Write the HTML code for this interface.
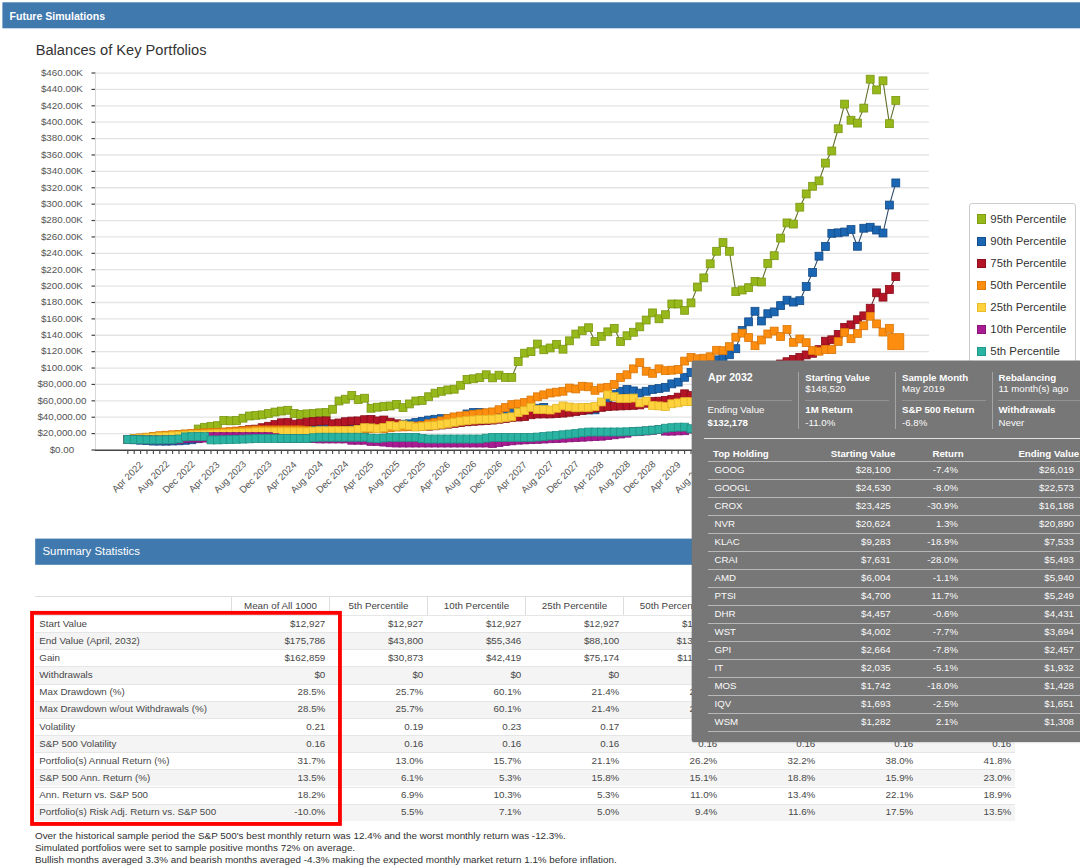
<!DOCTYPE html>
<html><head><meta charset="utf-8"><title>Future Simulations</title>
<style>
html,body{margin:0;padding:0;background:#fff;overflow:hidden;}
body{width:1080px;height:866px;position:relative;overflow:hidden;font-family:"Liberation Sans",sans-serif;color:#333;}
.bar{position:absolute;background:#3f79ae;color:#fff;font-size:11.4px;line-height:26px;white-space:nowrap;}
.title{position:absolute;left:35.7px;top:42.4px;font-size:14.65px;line-height:17px;color:#333;white-space:nowrap;}
.legend{position:absolute;left:969px;top:203px;width:105px;height:175px;border:1px solid #ccc;border-radius:3px;background:#fff;font-size:11.4px;color:#333;}
.legend .li{position:absolute;left:20.3px;line-height:11px;height:11px;white-space:nowrap;}
.legend .sw{position:absolute;left:-13.8px;top:0.8px;width:9.4px;height:9.4px;}
.tt{position:absolute;left:692px;top:360.3px;width:388px;height:381px;color:#fff;font-size:9.7px;}
.tt .t{position:absolute;white-space:nowrap;line-height:11px;color:#fbfbfb;}
.tt .b{font-weight:bold;color:#fff;}
.tt .r{text-align:right;}
.tt .vd{position:absolute;top:11.5px;width:1px;height:57.5px;background:#a4a4a4;}
.tt .hs{position:absolute;top:39.3px;height:1px;background:#929292;}
.tt .hl{position:absolute;right:0;height:1.2px;background:#b8b8b8;}
.tbl{position:absolute;left:35px;top:596px;width:980px;height:226px;font-size:9.8px;color:#484848;border-top:1px solid #ddd;}
.thr{position:absolute;left:0;top:0;width:980px;height:18px;}
.th{position:absolute;top:0;width:97px;height:18px;line-height:17.4px;text-align:center;border-left:1px solid #ddd;color:#444;}
.tr{position:absolute;left:0;width:980px;height:17.15px;border-top:1px solid #e6e6e6;box-sizing:border-box;}
.tr.alt{background:#f4f4f4;}
.td{position:absolute;top:-1.3px;width:94.3px;height:17px;line-height:17px;text-align:right;white-space:nowrap;}
.td.l{left:4.3px;width:190px;text-align:left;}
.redbox{position:absolute;left:31px;top:611px;width:306px;height:208px;border:3px solid #ee0a0f;}
.fn{position:absolute;left:35px;font-size:9.85px;line-height:11.7px;color:#303030;white-space:nowrap;}
</style></head><body>
<svg width="1080" height="32" style="position:absolute;left:0;top:0"><rect x="2.4" y="2.3" width="1080" height="26" fill="#3f79ae"/></svg><div class="bar" style="left:2.5px;top:2.4px;width:1078px;height:26px;background:none"><span style="position:absolute;left:7px;top:0.5px;font-weight:bold;font-size:10.55px">Future Simulations</span></div>
<div class="title">Balances of Key Portfolios</div>
<svg width="1080" height="540" style="position:absolute;left:0;top:0" font-family="Liberation Sans, sans-serif">
<line x1="95.5" x2="929" y1="433.61" y2="433.61" stroke="#e4e4e4" stroke-width="1.3"/>
<line x1="95.5" x2="929" y1="417.22" y2="417.22" stroke="#e4e4e4" stroke-width="1.3"/>
<line x1="95.5" x2="929" y1="400.83" y2="400.83" stroke="#e4e4e4" stroke-width="1.3"/>
<line x1="95.5" x2="929" y1="384.44" y2="384.44" stroke="#e4e4e4" stroke-width="1.3"/>
<line x1="95.5" x2="929" y1="368.05" y2="368.05" stroke="#e4e4e4" stroke-width="1.3"/>
<line x1="95.5" x2="929" y1="351.66" y2="351.66" stroke="#e4e4e4" stroke-width="1.3"/>
<line x1="95.5" x2="929" y1="335.27" y2="335.27" stroke="#e4e4e4" stroke-width="1.3"/>
<line x1="95.5" x2="929" y1="318.88" y2="318.88" stroke="#e4e4e4" stroke-width="1.3"/>
<line x1="95.5" x2="929" y1="302.49" y2="302.49" stroke="#e4e4e4" stroke-width="1.3"/>
<line x1="95.5" x2="929" y1="286.10" y2="286.10" stroke="#e4e4e4" stroke-width="1.3"/>
<line x1="95.5" x2="929" y1="269.71" y2="269.71" stroke="#e4e4e4" stroke-width="1.3"/>
<line x1="95.5" x2="929" y1="253.32" y2="253.32" stroke="#e4e4e4" stroke-width="1.3"/>
<line x1="95.5" x2="929" y1="236.93" y2="236.93" stroke="#e4e4e4" stroke-width="1.3"/>
<line x1="95.5" x2="929" y1="220.54" y2="220.54" stroke="#e4e4e4" stroke-width="1.3"/>
<line x1="95.5" x2="929" y1="204.15" y2="204.15" stroke="#e4e4e4" stroke-width="1.3"/>
<line x1="95.5" x2="929" y1="187.76" y2="187.76" stroke="#e4e4e4" stroke-width="1.3"/>
<line x1="95.5" x2="929" y1="171.37" y2="171.37" stroke="#e4e4e4" stroke-width="1.3"/>
<line x1="95.5" x2="929" y1="154.98" y2="154.98" stroke="#e4e4e4" stroke-width="1.3"/>
<line x1="95.5" x2="929" y1="138.59" y2="138.59" stroke="#e4e4e4" stroke-width="1.3"/>
<line x1="95.5" x2="929" y1="122.20" y2="122.20" stroke="#e4e4e4" stroke-width="1.3"/>
<line x1="95.5" x2="929" y1="105.81" y2="105.81" stroke="#e4e4e4" stroke-width="1.3"/>
<line x1="95.5" x2="929" y1="89.42" y2="89.42" stroke="#e4e4e4" stroke-width="1.3"/>
<line x1="95.5" x2="929" y1="73.03" y2="73.03" stroke="#e4e4e4" stroke-width="1.3"/>
<text x="61.9" y="452.80" text-anchor="middle" font-size="9.8" fill="#555">$0.00</text>
<line x1="91.5" x2="95.5" y1="450.00" y2="450.00" stroke="#444" stroke-width="1.2"/>
<text x="61.9" y="436.41" text-anchor="middle" font-size="9.8" fill="#555">$20,000.00</text>
<line x1="91.5" x2="95.5" y1="433.61" y2="433.61" stroke="#444" stroke-width="1.2"/>
<text x="61.9" y="420.02" text-anchor="middle" font-size="9.8" fill="#555">$40,000.00</text>
<line x1="91.5" x2="95.5" y1="417.22" y2="417.22" stroke="#444" stroke-width="1.2"/>
<text x="61.9" y="403.63" text-anchor="middle" font-size="9.8" fill="#555">$60,000.00</text>
<line x1="91.5" x2="95.5" y1="400.83" y2="400.83" stroke="#444" stroke-width="1.2"/>
<text x="61.9" y="387.24" text-anchor="middle" font-size="9.8" fill="#555">$80,000.00</text>
<line x1="91.5" x2="95.5" y1="384.44" y2="384.44" stroke="#444" stroke-width="1.2"/>
<text x="61.9" y="370.85" text-anchor="middle" font-size="9.8" fill="#555">$100.00K</text>
<line x1="91.5" x2="95.5" y1="368.05" y2="368.05" stroke="#444" stroke-width="1.2"/>
<text x="61.9" y="354.46" text-anchor="middle" font-size="9.8" fill="#555">$120.00K</text>
<line x1="91.5" x2="95.5" y1="351.66" y2="351.66" stroke="#444" stroke-width="1.2"/>
<text x="61.9" y="338.07" text-anchor="middle" font-size="9.8" fill="#555">$140.00K</text>
<line x1="91.5" x2="95.5" y1="335.27" y2="335.27" stroke="#444" stroke-width="1.2"/>
<text x="61.9" y="321.68" text-anchor="middle" font-size="9.8" fill="#555">$160.00K</text>
<line x1="91.5" x2="95.5" y1="318.88" y2="318.88" stroke="#444" stroke-width="1.2"/>
<text x="61.9" y="305.29" text-anchor="middle" font-size="9.8" fill="#555">$180.00K</text>
<line x1="91.5" x2="95.5" y1="302.49" y2="302.49" stroke="#444" stroke-width="1.2"/>
<text x="61.9" y="288.90" text-anchor="middle" font-size="9.8" fill="#555">$200.00K</text>
<line x1="91.5" x2="95.5" y1="286.10" y2="286.10" stroke="#444" stroke-width="1.2"/>
<text x="61.9" y="272.51" text-anchor="middle" font-size="9.8" fill="#555">$220.00K</text>
<line x1="91.5" x2="95.5" y1="269.71" y2="269.71" stroke="#444" stroke-width="1.2"/>
<text x="61.9" y="256.12" text-anchor="middle" font-size="9.8" fill="#555">$240.00K</text>
<line x1="91.5" x2="95.5" y1="253.32" y2="253.32" stroke="#444" stroke-width="1.2"/>
<text x="61.9" y="239.73" text-anchor="middle" font-size="9.8" fill="#555">$260.00K</text>
<line x1="91.5" x2="95.5" y1="236.93" y2="236.93" stroke="#444" stroke-width="1.2"/>
<text x="61.9" y="223.34" text-anchor="middle" font-size="9.8" fill="#555">$280.00K</text>
<line x1="91.5" x2="95.5" y1="220.54" y2="220.54" stroke="#444" stroke-width="1.2"/>
<text x="61.9" y="206.95" text-anchor="middle" font-size="9.8" fill="#555">$300.00K</text>
<line x1="91.5" x2="95.5" y1="204.15" y2="204.15" stroke="#444" stroke-width="1.2"/>
<text x="61.9" y="190.56" text-anchor="middle" font-size="9.8" fill="#555">$320.00K</text>
<line x1="91.5" x2="95.5" y1="187.76" y2="187.76" stroke="#444" stroke-width="1.2"/>
<text x="61.9" y="174.17" text-anchor="middle" font-size="9.8" fill="#555">$340.00K</text>
<line x1="91.5" x2="95.5" y1="171.37" y2="171.37" stroke="#444" stroke-width="1.2"/>
<text x="61.9" y="157.78" text-anchor="middle" font-size="9.8" fill="#555">$360.00K</text>
<line x1="91.5" x2="95.5" y1="154.98" y2="154.98" stroke="#444" stroke-width="1.2"/>
<text x="61.9" y="141.39" text-anchor="middle" font-size="9.8" fill="#555">$380.00K</text>
<line x1="91.5" x2="95.5" y1="138.59" y2="138.59" stroke="#444" stroke-width="1.2"/>
<text x="61.9" y="125.00" text-anchor="middle" font-size="9.8" fill="#555">$400.00K</text>
<line x1="91.5" x2="95.5" y1="122.20" y2="122.20" stroke="#444" stroke-width="1.2"/>
<text x="61.9" y="108.61" text-anchor="middle" font-size="9.8" fill="#555">$420.00K</text>
<line x1="91.5" x2="95.5" y1="105.81" y2="105.81" stroke="#444" stroke-width="1.2"/>
<text x="61.9" y="92.22" text-anchor="middle" font-size="9.8" fill="#555">$440.00K</text>
<line x1="91.5" x2="95.5" y1="89.42" y2="89.42" stroke="#444" stroke-width="1.2"/>
<text x="61.9" y="75.83" text-anchor="middle" font-size="9.8" fill="#555">$460.00K</text>
<line x1="91.5" x2="95.5" y1="73.03" y2="73.03" stroke="#444" stroke-width="1.2"/>
<line x1="95.5" x2="95.5" y1="73" y2="450" stroke="#d8d8d8" stroke-width="1"/>
<line x1="95" x2="929" y1="450.3" y2="450.3" stroke="#444" stroke-width="1.4"/>
<line x1="127.80" x2="127.80" y1="450" y2="454.1" stroke="#444" stroke-width="1.1"/>
<text transform="translate(129.80,479.30) rotate(-45)" text-anchor="middle" font-size="9.6" fill="#555">Apr 2022</text>
<line x1="134.20" x2="134.20" y1="450" y2="454.1" stroke="#444" stroke-width="1.1"/>
<line x1="140.60" x2="140.60" y1="450" y2="454.1" stroke="#444" stroke-width="1.1"/>
<line x1="147.00" x2="147.00" y1="450" y2="454.1" stroke="#444" stroke-width="1.1"/>
<line x1="153.40" x2="153.40" y1="450" y2="454.1" stroke="#444" stroke-width="1.1"/>
<text transform="translate(155.40,479.30) rotate(-45)" text-anchor="middle" font-size="9.6" fill="#555">Aug 2022</text>
<line x1="159.80" x2="159.80" y1="450" y2="454.1" stroke="#444" stroke-width="1.1"/>
<line x1="166.20" x2="166.20" y1="450" y2="454.1" stroke="#444" stroke-width="1.1"/>
<line x1="172.60" x2="172.60" y1="450" y2="454.1" stroke="#444" stroke-width="1.1"/>
<line x1="179.00" x2="179.00" y1="450" y2="454.1" stroke="#444" stroke-width="1.1"/>
<text transform="translate(181.00,479.30) rotate(-45)" text-anchor="middle" font-size="9.6" fill="#555">Dec 2022</text>
<line x1="185.40" x2="185.40" y1="450" y2="454.1" stroke="#444" stroke-width="1.1"/>
<line x1="191.80" x2="191.80" y1="450" y2="454.1" stroke="#444" stroke-width="1.1"/>
<line x1="198.20" x2="198.20" y1="450" y2="454.1" stroke="#444" stroke-width="1.1"/>
<line x1="204.60" x2="204.60" y1="450" y2="454.1" stroke="#444" stroke-width="1.1"/>
<text transform="translate(206.60,479.30) rotate(-45)" text-anchor="middle" font-size="9.6" fill="#555">Apr 2023</text>
<line x1="211.00" x2="211.00" y1="450" y2="454.1" stroke="#444" stroke-width="1.1"/>
<line x1="217.40" x2="217.40" y1="450" y2="454.1" stroke="#444" stroke-width="1.1"/>
<line x1="223.80" x2="223.80" y1="450" y2="454.1" stroke="#444" stroke-width="1.1"/>
<line x1="230.20" x2="230.20" y1="450" y2="454.1" stroke="#444" stroke-width="1.1"/>
<text transform="translate(232.20,479.30) rotate(-45)" text-anchor="middle" font-size="9.6" fill="#555">Aug 2023</text>
<line x1="236.60" x2="236.60" y1="450" y2="454.1" stroke="#444" stroke-width="1.1"/>
<line x1="243.00" x2="243.00" y1="450" y2="454.1" stroke="#444" stroke-width="1.1"/>
<line x1="249.40" x2="249.40" y1="450" y2="454.1" stroke="#444" stroke-width="1.1"/>
<line x1="255.80" x2="255.80" y1="450" y2="454.1" stroke="#444" stroke-width="1.1"/>
<text transform="translate(257.80,479.30) rotate(-45)" text-anchor="middle" font-size="9.6" fill="#555">Dec 2023</text>
<line x1="262.20" x2="262.20" y1="450" y2="454.1" stroke="#444" stroke-width="1.1"/>
<line x1="268.60" x2="268.60" y1="450" y2="454.1" stroke="#444" stroke-width="1.1"/>
<line x1="275.00" x2="275.00" y1="450" y2="454.1" stroke="#444" stroke-width="1.1"/>
<line x1="281.40" x2="281.40" y1="450" y2="454.1" stroke="#444" stroke-width="1.1"/>
<text transform="translate(283.40,479.30) rotate(-45)" text-anchor="middle" font-size="9.6" fill="#555">Apr 2024</text>
<line x1="287.80" x2="287.80" y1="450" y2="454.1" stroke="#444" stroke-width="1.1"/>
<line x1="294.20" x2="294.20" y1="450" y2="454.1" stroke="#444" stroke-width="1.1"/>
<line x1="300.60" x2="300.60" y1="450" y2="454.1" stroke="#444" stroke-width="1.1"/>
<line x1="307.00" x2="307.00" y1="450" y2="454.1" stroke="#444" stroke-width="1.1"/>
<text transform="translate(309.00,479.30) rotate(-45)" text-anchor="middle" font-size="9.6" fill="#555">Aug 2024</text>
<line x1="313.40" x2="313.40" y1="450" y2="454.1" stroke="#444" stroke-width="1.1"/>
<line x1="319.80" x2="319.80" y1="450" y2="454.1" stroke="#444" stroke-width="1.1"/>
<line x1="326.20" x2="326.20" y1="450" y2="454.1" stroke="#444" stroke-width="1.1"/>
<line x1="332.60" x2="332.60" y1="450" y2="454.1" stroke="#444" stroke-width="1.1"/>
<text transform="translate(334.60,479.30) rotate(-45)" text-anchor="middle" font-size="9.6" fill="#555">Dec 2024</text>
<line x1="339.00" x2="339.00" y1="450" y2="454.1" stroke="#444" stroke-width="1.1"/>
<line x1="345.40" x2="345.40" y1="450" y2="454.1" stroke="#444" stroke-width="1.1"/>
<line x1="351.80" x2="351.80" y1="450" y2="454.1" stroke="#444" stroke-width="1.1"/>
<line x1="358.20" x2="358.20" y1="450" y2="454.1" stroke="#444" stroke-width="1.1"/>
<text transform="translate(360.20,479.30) rotate(-45)" text-anchor="middle" font-size="9.6" fill="#555">Apr 2025</text>
<line x1="364.60" x2="364.60" y1="450" y2="454.1" stroke="#444" stroke-width="1.1"/>
<line x1="371.00" x2="371.00" y1="450" y2="454.1" stroke="#444" stroke-width="1.1"/>
<line x1="377.40" x2="377.40" y1="450" y2="454.1" stroke="#444" stroke-width="1.1"/>
<line x1="383.80" x2="383.80" y1="450" y2="454.1" stroke="#444" stroke-width="1.1"/>
<text transform="translate(385.80,479.30) rotate(-45)" text-anchor="middle" font-size="9.6" fill="#555">Aug 2025</text>
<line x1="390.20" x2="390.20" y1="450" y2="454.1" stroke="#444" stroke-width="1.1"/>
<line x1="396.60" x2="396.60" y1="450" y2="454.1" stroke="#444" stroke-width="1.1"/>
<line x1="403.00" x2="403.00" y1="450" y2="454.1" stroke="#444" stroke-width="1.1"/>
<line x1="409.40" x2="409.40" y1="450" y2="454.1" stroke="#444" stroke-width="1.1"/>
<text transform="translate(411.40,479.30) rotate(-45)" text-anchor="middle" font-size="9.6" fill="#555">Dec 2025</text>
<line x1="415.80" x2="415.80" y1="450" y2="454.1" stroke="#444" stroke-width="1.1"/>
<line x1="422.20" x2="422.20" y1="450" y2="454.1" stroke="#444" stroke-width="1.1"/>
<line x1="428.60" x2="428.60" y1="450" y2="454.1" stroke="#444" stroke-width="1.1"/>
<line x1="435.00" x2="435.00" y1="450" y2="454.1" stroke="#444" stroke-width="1.1"/>
<text transform="translate(437.00,479.30) rotate(-45)" text-anchor="middle" font-size="9.6" fill="#555">Apr 2026</text>
<line x1="441.40" x2="441.40" y1="450" y2="454.1" stroke="#444" stroke-width="1.1"/>
<line x1="447.80" x2="447.80" y1="450" y2="454.1" stroke="#444" stroke-width="1.1"/>
<line x1="454.20" x2="454.20" y1="450" y2="454.1" stroke="#444" stroke-width="1.1"/>
<line x1="460.60" x2="460.60" y1="450" y2="454.1" stroke="#444" stroke-width="1.1"/>
<text transform="translate(462.60,479.30) rotate(-45)" text-anchor="middle" font-size="9.6" fill="#555">Aug 2026</text>
<line x1="467.00" x2="467.00" y1="450" y2="454.1" stroke="#444" stroke-width="1.1"/>
<line x1="473.40" x2="473.40" y1="450" y2="454.1" stroke="#444" stroke-width="1.1"/>
<line x1="479.80" x2="479.80" y1="450" y2="454.1" stroke="#444" stroke-width="1.1"/>
<line x1="486.20" x2="486.20" y1="450" y2="454.1" stroke="#444" stroke-width="1.1"/>
<text transform="translate(488.20,479.30) rotate(-45)" text-anchor="middle" font-size="9.6" fill="#555">Dec 2026</text>
<line x1="492.60" x2="492.60" y1="450" y2="454.1" stroke="#444" stroke-width="1.1"/>
<line x1="499.00" x2="499.00" y1="450" y2="454.1" stroke="#444" stroke-width="1.1"/>
<line x1="505.40" x2="505.40" y1="450" y2="454.1" stroke="#444" stroke-width="1.1"/>
<line x1="511.80" x2="511.80" y1="450" y2="454.1" stroke="#444" stroke-width="1.1"/>
<text transform="translate(513.80,479.30) rotate(-45)" text-anchor="middle" font-size="9.6" fill="#555">Apr 2027</text>
<line x1="518.20" x2="518.20" y1="450" y2="454.1" stroke="#444" stroke-width="1.1"/>
<line x1="524.60" x2="524.60" y1="450" y2="454.1" stroke="#444" stroke-width="1.1"/>
<line x1="531.00" x2="531.00" y1="450" y2="454.1" stroke="#444" stroke-width="1.1"/>
<line x1="537.40" x2="537.40" y1="450" y2="454.1" stroke="#444" stroke-width="1.1"/>
<text transform="translate(539.40,479.30) rotate(-45)" text-anchor="middle" font-size="9.6" fill="#555">Aug 2027</text>
<line x1="543.80" x2="543.80" y1="450" y2="454.1" stroke="#444" stroke-width="1.1"/>
<line x1="550.20" x2="550.20" y1="450" y2="454.1" stroke="#444" stroke-width="1.1"/>
<line x1="556.60" x2="556.60" y1="450" y2="454.1" stroke="#444" stroke-width="1.1"/>
<line x1="563.00" x2="563.00" y1="450" y2="454.1" stroke="#444" stroke-width="1.1"/>
<text transform="translate(565.00,479.30) rotate(-45)" text-anchor="middle" font-size="9.6" fill="#555">Dec 2027</text>
<line x1="569.40" x2="569.40" y1="450" y2="454.1" stroke="#444" stroke-width="1.1"/>
<line x1="575.80" x2="575.80" y1="450" y2="454.1" stroke="#444" stroke-width="1.1"/>
<line x1="582.20" x2="582.20" y1="450" y2="454.1" stroke="#444" stroke-width="1.1"/>
<line x1="588.60" x2="588.60" y1="450" y2="454.1" stroke="#444" stroke-width="1.1"/>
<text transform="translate(590.60,479.30) rotate(-45)" text-anchor="middle" font-size="9.6" fill="#555">Apr 2028</text>
<line x1="595.00" x2="595.00" y1="450" y2="454.1" stroke="#444" stroke-width="1.1"/>
<line x1="601.40" x2="601.40" y1="450" y2="454.1" stroke="#444" stroke-width="1.1"/>
<line x1="607.80" x2="607.80" y1="450" y2="454.1" stroke="#444" stroke-width="1.1"/>
<line x1="614.20" x2="614.20" y1="450" y2="454.1" stroke="#444" stroke-width="1.1"/>
<text transform="translate(616.20,479.30) rotate(-45)" text-anchor="middle" font-size="9.6" fill="#555">Aug 2028</text>
<line x1="620.60" x2="620.60" y1="450" y2="454.1" stroke="#444" stroke-width="1.1"/>
<line x1="627.00" x2="627.00" y1="450" y2="454.1" stroke="#444" stroke-width="1.1"/>
<line x1="633.40" x2="633.40" y1="450" y2="454.1" stroke="#444" stroke-width="1.1"/>
<line x1="639.80" x2="639.80" y1="450" y2="454.1" stroke="#444" stroke-width="1.1"/>
<text transform="translate(641.80,479.30) rotate(-45)" text-anchor="middle" font-size="9.6" fill="#555">Dec 2028</text>
<line x1="646.20" x2="646.20" y1="450" y2="454.1" stroke="#444" stroke-width="1.1"/>
<line x1="652.60" x2="652.60" y1="450" y2="454.1" stroke="#444" stroke-width="1.1"/>
<line x1="659.00" x2="659.00" y1="450" y2="454.1" stroke="#444" stroke-width="1.1"/>
<line x1="665.40" x2="665.40" y1="450" y2="454.1" stroke="#444" stroke-width="1.1"/>
<text transform="translate(667.40,479.30) rotate(-45)" text-anchor="middle" font-size="9.6" fill="#555">Apr 2029</text>
<line x1="671.80" x2="671.80" y1="450" y2="454.1" stroke="#444" stroke-width="1.1"/>
<line x1="678.20" x2="678.20" y1="450" y2="454.1" stroke="#444" stroke-width="1.1"/>
<line x1="684.60" x2="684.60" y1="450" y2="454.1" stroke="#444" stroke-width="1.1"/>
<line x1="691.00" x2="691.00" y1="450" y2="454.1" stroke="#444" stroke-width="1.1"/>
<text transform="translate(693.00,479.30) rotate(-45)" text-anchor="middle" font-size="9.6" fill="#555">Aug 2029</text>
<line x1="697.40" x2="697.40" y1="450" y2="454.1" stroke="#444" stroke-width="1.1"/>
<line x1="703.80" x2="703.80" y1="450" y2="454.1" stroke="#444" stroke-width="1.1"/>
<line x1="710.20" x2="710.20" y1="450" y2="454.1" stroke="#444" stroke-width="1.1"/>
<line x1="716.60" x2="716.60" y1="450" y2="454.1" stroke="#444" stroke-width="1.1"/>
<text transform="translate(718.60,479.30) rotate(-45)" text-anchor="middle" font-size="9.6" fill="#555">Dec 2029</text>
<line x1="723.00" x2="723.00" y1="450" y2="454.1" stroke="#444" stroke-width="1.1"/>
<line x1="729.40" x2="729.40" y1="450" y2="454.1" stroke="#444" stroke-width="1.1"/>
<line x1="735.80" x2="735.80" y1="450" y2="454.1" stroke="#444" stroke-width="1.1"/>
<line x1="742.20" x2="742.20" y1="450" y2="454.1" stroke="#444" stroke-width="1.1"/>
<text transform="translate(744.20,479.30) rotate(-45)" text-anchor="middle" font-size="9.6" fill="#555">Apr 2030</text>
<line x1="748.60" x2="748.60" y1="450" y2="454.1" stroke="#444" stroke-width="1.1"/>
<line x1="755.00" x2="755.00" y1="450" y2="454.1" stroke="#444" stroke-width="1.1"/>
<line x1="761.40" x2="761.40" y1="450" y2="454.1" stroke="#444" stroke-width="1.1"/>
<line x1="767.80" x2="767.80" y1="450" y2="454.1" stroke="#444" stroke-width="1.1"/>
<text transform="translate(769.80,479.30) rotate(-45)" text-anchor="middle" font-size="9.6" fill="#555">Aug 2030</text>
<line x1="774.20" x2="774.20" y1="450" y2="454.1" stroke="#444" stroke-width="1.1"/>
<line x1="780.60" x2="780.60" y1="450" y2="454.1" stroke="#444" stroke-width="1.1"/>
<line x1="787.00" x2="787.00" y1="450" y2="454.1" stroke="#444" stroke-width="1.1"/>
<line x1="793.40" x2="793.40" y1="450" y2="454.1" stroke="#444" stroke-width="1.1"/>
<text transform="translate(795.40,479.30) rotate(-45)" text-anchor="middle" font-size="9.6" fill="#555">Dec 2030</text>
<line x1="799.80" x2="799.80" y1="450" y2="454.1" stroke="#444" stroke-width="1.1"/>
<line x1="806.20" x2="806.20" y1="450" y2="454.1" stroke="#444" stroke-width="1.1"/>
<line x1="812.60" x2="812.60" y1="450" y2="454.1" stroke="#444" stroke-width="1.1"/>
<line x1="819.00" x2="819.00" y1="450" y2="454.1" stroke="#444" stroke-width="1.1"/>
<text transform="translate(821.00,479.30) rotate(-45)" text-anchor="middle" font-size="9.6" fill="#555">Apr 2031</text>
<line x1="825.40" x2="825.40" y1="450" y2="454.1" stroke="#444" stroke-width="1.1"/>
<line x1="831.80" x2="831.80" y1="450" y2="454.1" stroke="#444" stroke-width="1.1"/>
<line x1="838.20" x2="838.20" y1="450" y2="454.1" stroke="#444" stroke-width="1.1"/>
<line x1="844.60" x2="844.60" y1="450" y2="454.1" stroke="#444" stroke-width="1.1"/>
<text transform="translate(846.60,479.30) rotate(-45)" text-anchor="middle" font-size="9.6" fill="#555">Aug 2031</text>
<line x1="851.00" x2="851.00" y1="450" y2="454.1" stroke="#444" stroke-width="1.1"/>
<line x1="857.40" x2="857.40" y1="450" y2="454.1" stroke="#444" stroke-width="1.1"/>
<line x1="863.80" x2="863.80" y1="450" y2="454.1" stroke="#444" stroke-width="1.1"/>
<line x1="870.20" x2="870.20" y1="450" y2="454.1" stroke="#444" stroke-width="1.1"/>
<text transform="translate(872.20,479.30) rotate(-45)" text-anchor="middle" font-size="9.6" fill="#555">Dec 2031</text>
<line x1="876.60" x2="876.60" y1="450" y2="454.1" stroke="#444" stroke-width="1.1"/>
<line x1="883.00" x2="883.00" y1="450" y2="454.1" stroke="#444" stroke-width="1.1"/>
<line x1="889.40" x2="889.40" y1="450" y2="454.1" stroke="#444" stroke-width="1.1"/>
<line x1="895.80" x2="895.80" y1="450" y2="454.1" stroke="#444" stroke-width="1.1"/>
<text transform="translate(897.80,479.30) rotate(-45)" text-anchor="middle" font-size="9.6" fill="#555">Apr 2032</text>
<polyline points="127.80,439.43 134.20,438.84 140.60,438.25 147.00,437.66 153.40,437.07 159.80,436.48 166.20,435.99 172.60,435.49 179.00,435.00 185.40,434.51 191.80,434.02 198.20,429.02 204.60,427.30 211.00,426.40 217.40,425.66 223.80,420.50 230.20,420.83 236.60,420.50 243.00,418.20 249.40,415.99 255.80,415.34 262.20,414.84 268.60,413.45 275.00,412.06 281.40,411.07 287.80,410.25 294.20,413.45 300.60,414.43 307.00,413.86 313.40,413.45 319.80,412.79 326.20,412.55 332.60,409.27 339.00,400.99 345.40,399.19 351.80,395.42 358.20,399.60 364.60,398.21 371.00,408.29 377.40,407.22 383.80,406.57 390.20,405.99 396.60,404.35 403.00,407.63 409.40,403.94 415.80,400.99 422.20,400.42 428.60,396.73 435.00,393.13 441.40,391.32 447.80,389.93 454.20,389.19 460.60,385.26 467.00,379.52 473.40,378.79 479.80,377.64 486.20,374.77 492.60,377.88 499.00,375.18 505.40,377.39 511.80,377.39 518.20,361.49 524.60,353.14 531.00,351.66 537.40,344.04 543.80,349.78 550.20,347.97 556.60,344.37 563.00,349.20 569.40,340.84 575.80,334.04 582.20,330.76 588.60,327.73 595.00,341.50 601.40,336.34 607.80,331.83 614.20,328.30 620.60,341.50 627.00,335.76 633.40,332.24 639.80,326.83 646.20,320.03 652.60,312.90 659.00,318.80 665.40,314.70 671.80,303.97 678.20,303.97 684.60,310.36 691.00,302.90 697.40,287.00 703.80,277.90 710.20,263.81 716.60,251.27 723.00,242.58 729.40,251.27 735.80,291.67 742.20,290.03 748.60,287.66 755.00,281.35 761.40,282.00 767.80,263.40 774.20,255.70 780.60,238.08 787.00,222.92 793.40,224.06 799.80,207.18 806.20,193.91 812.60,186.28 819.00,180.88 825.40,163.09 831.80,150.96 838.20,128.76 844.60,104.09 851.00,120.23 857.40,123.10 863.80,108.10 870.20,79.18 876.60,89.91 883.00,80.82 889.40,123.68 895.80,100.40" fill="none" stroke="#62702d" stroke-width="1.1"/>
<rect x="123.85" y="435.48" width="7.9" height="7.9" fill="#97b81a" stroke="#7a9610" stroke-width="0.8"/>
<rect x="130.25" y="434.89" width="7.9" height="7.9" fill="#97b81a" stroke="#7a9610" stroke-width="0.8"/>
<rect x="136.65" y="434.30" width="7.9" height="7.9" fill="#97b81a" stroke="#7a9610" stroke-width="0.8"/>
<rect x="143.05" y="433.71" width="7.9" height="7.9" fill="#97b81a" stroke="#7a9610" stroke-width="0.8"/>
<rect x="149.45" y="433.12" width="7.9" height="7.9" fill="#97b81a" stroke="#7a9610" stroke-width="0.8"/>
<rect x="155.85" y="432.53" width="7.9" height="7.9" fill="#97b81a" stroke="#7a9610" stroke-width="0.8"/>
<rect x="162.25" y="432.04" width="7.9" height="7.9" fill="#97b81a" stroke="#7a9610" stroke-width="0.8"/>
<rect x="168.65" y="431.54" width="7.9" height="7.9" fill="#97b81a" stroke="#7a9610" stroke-width="0.8"/>
<rect x="175.05" y="431.05" width="7.9" height="7.9" fill="#97b81a" stroke="#7a9610" stroke-width="0.8"/>
<rect x="181.45" y="430.56" width="7.9" height="7.9" fill="#97b81a" stroke="#7a9610" stroke-width="0.8"/>
<rect x="187.85" y="430.07" width="7.9" height="7.9" fill="#97b81a" stroke="#7a9610" stroke-width="0.8"/>
<rect x="194.25" y="425.07" width="7.9" height="7.9" fill="#97b81a" stroke="#7a9610" stroke-width="0.8"/>
<rect x="200.65" y="423.35" width="7.9" height="7.9" fill="#97b81a" stroke="#7a9610" stroke-width="0.8"/>
<rect x="207.05" y="422.45" width="7.9" height="7.9" fill="#97b81a" stroke="#7a9610" stroke-width="0.8"/>
<rect x="213.45" y="421.71" width="7.9" height="7.9" fill="#97b81a" stroke="#7a9610" stroke-width="0.8"/>
<rect x="219.85" y="416.55" width="7.9" height="7.9" fill="#97b81a" stroke="#7a9610" stroke-width="0.8"/>
<rect x="226.25" y="416.88" width="7.9" height="7.9" fill="#97b81a" stroke="#7a9610" stroke-width="0.8"/>
<rect x="232.65" y="416.55" width="7.9" height="7.9" fill="#97b81a" stroke="#7a9610" stroke-width="0.8"/>
<rect x="239.05" y="414.25" width="7.9" height="7.9" fill="#97b81a" stroke="#7a9610" stroke-width="0.8"/>
<rect x="245.45" y="412.04" width="7.9" height="7.9" fill="#97b81a" stroke="#7a9610" stroke-width="0.8"/>
<rect x="251.85" y="411.39" width="7.9" height="7.9" fill="#97b81a" stroke="#7a9610" stroke-width="0.8"/>
<rect x="258.25" y="410.89" width="7.9" height="7.9" fill="#97b81a" stroke="#7a9610" stroke-width="0.8"/>
<rect x="264.65" y="409.50" width="7.9" height="7.9" fill="#97b81a" stroke="#7a9610" stroke-width="0.8"/>
<rect x="271.05" y="408.11" width="7.9" height="7.9" fill="#97b81a" stroke="#7a9610" stroke-width="0.8"/>
<rect x="277.45" y="407.12" width="7.9" height="7.9" fill="#97b81a" stroke="#7a9610" stroke-width="0.8"/>
<rect x="283.85" y="406.30" width="7.9" height="7.9" fill="#97b81a" stroke="#7a9610" stroke-width="0.8"/>
<rect x="290.25" y="409.50" width="7.9" height="7.9" fill="#97b81a" stroke="#7a9610" stroke-width="0.8"/>
<rect x="296.65" y="410.48" width="7.9" height="7.9" fill="#97b81a" stroke="#7a9610" stroke-width="0.8"/>
<rect x="303.05" y="409.91" width="7.9" height="7.9" fill="#97b81a" stroke="#7a9610" stroke-width="0.8"/>
<rect x="309.45" y="409.50" width="7.9" height="7.9" fill="#97b81a" stroke="#7a9610" stroke-width="0.8"/>
<rect x="315.85" y="408.84" width="7.9" height="7.9" fill="#97b81a" stroke="#7a9610" stroke-width="0.8"/>
<rect x="322.25" y="408.60" width="7.9" height="7.9" fill="#97b81a" stroke="#7a9610" stroke-width="0.8"/>
<rect x="328.65" y="405.32" width="7.9" height="7.9" fill="#97b81a" stroke="#7a9610" stroke-width="0.8"/>
<rect x="335.05" y="397.04" width="7.9" height="7.9" fill="#97b81a" stroke="#7a9610" stroke-width="0.8"/>
<rect x="341.45" y="395.24" width="7.9" height="7.9" fill="#97b81a" stroke="#7a9610" stroke-width="0.8"/>
<rect x="347.85" y="391.47" width="7.9" height="7.9" fill="#97b81a" stroke="#7a9610" stroke-width="0.8"/>
<rect x="354.25" y="395.65" width="7.9" height="7.9" fill="#97b81a" stroke="#7a9610" stroke-width="0.8"/>
<rect x="360.65" y="394.26" width="7.9" height="7.9" fill="#97b81a" stroke="#7a9610" stroke-width="0.8"/>
<rect x="367.05" y="404.34" width="7.9" height="7.9" fill="#97b81a" stroke="#7a9610" stroke-width="0.8"/>
<rect x="373.45" y="403.27" width="7.9" height="7.9" fill="#97b81a" stroke="#7a9610" stroke-width="0.8"/>
<rect x="379.85" y="402.62" width="7.9" height="7.9" fill="#97b81a" stroke="#7a9610" stroke-width="0.8"/>
<rect x="386.25" y="402.04" width="7.9" height="7.9" fill="#97b81a" stroke="#7a9610" stroke-width="0.8"/>
<rect x="392.65" y="400.40" width="7.9" height="7.9" fill="#97b81a" stroke="#7a9610" stroke-width="0.8"/>
<rect x="399.05" y="403.68" width="7.9" height="7.9" fill="#97b81a" stroke="#7a9610" stroke-width="0.8"/>
<rect x="405.45" y="399.99" width="7.9" height="7.9" fill="#97b81a" stroke="#7a9610" stroke-width="0.8"/>
<rect x="411.85" y="397.04" width="7.9" height="7.9" fill="#97b81a" stroke="#7a9610" stroke-width="0.8"/>
<rect x="418.25" y="396.47" width="7.9" height="7.9" fill="#97b81a" stroke="#7a9610" stroke-width="0.8"/>
<rect x="424.65" y="392.78" width="7.9" height="7.9" fill="#97b81a" stroke="#7a9610" stroke-width="0.8"/>
<rect x="431.05" y="389.18" width="7.9" height="7.9" fill="#97b81a" stroke="#7a9610" stroke-width="0.8"/>
<rect x="437.45" y="387.37" width="7.9" height="7.9" fill="#97b81a" stroke="#7a9610" stroke-width="0.8"/>
<rect x="443.85" y="385.98" width="7.9" height="7.9" fill="#97b81a" stroke="#7a9610" stroke-width="0.8"/>
<rect x="450.25" y="385.24" width="7.9" height="7.9" fill="#97b81a" stroke="#7a9610" stroke-width="0.8"/>
<rect x="456.65" y="381.31" width="7.9" height="7.9" fill="#97b81a" stroke="#7a9610" stroke-width="0.8"/>
<rect x="463.05" y="375.57" width="7.9" height="7.9" fill="#97b81a" stroke="#7a9610" stroke-width="0.8"/>
<rect x="469.45" y="374.84" width="7.9" height="7.9" fill="#97b81a" stroke="#7a9610" stroke-width="0.8"/>
<rect x="475.85" y="373.69" width="7.9" height="7.9" fill="#97b81a" stroke="#7a9610" stroke-width="0.8"/>
<rect x="482.25" y="370.82" width="7.9" height="7.9" fill="#97b81a" stroke="#7a9610" stroke-width="0.8"/>
<rect x="488.65" y="373.93" width="7.9" height="7.9" fill="#97b81a" stroke="#7a9610" stroke-width="0.8"/>
<rect x="495.05" y="371.23" width="7.9" height="7.9" fill="#97b81a" stroke="#7a9610" stroke-width="0.8"/>
<rect x="501.45" y="373.44" width="7.9" height="7.9" fill="#97b81a" stroke="#7a9610" stroke-width="0.8"/>
<rect x="507.85" y="373.44" width="7.9" height="7.9" fill="#97b81a" stroke="#7a9610" stroke-width="0.8"/>
<rect x="514.25" y="357.54" width="7.9" height="7.9" fill="#97b81a" stroke="#7a9610" stroke-width="0.8"/>
<rect x="520.65" y="349.19" width="7.9" height="7.9" fill="#97b81a" stroke="#7a9610" stroke-width="0.8"/>
<rect x="527.05" y="347.71" width="7.9" height="7.9" fill="#97b81a" stroke="#7a9610" stroke-width="0.8"/>
<rect x="533.45" y="340.09" width="7.9" height="7.9" fill="#97b81a" stroke="#7a9610" stroke-width="0.8"/>
<rect x="539.85" y="345.83" width="7.9" height="7.9" fill="#97b81a" stroke="#7a9610" stroke-width="0.8"/>
<rect x="546.25" y="344.02" width="7.9" height="7.9" fill="#97b81a" stroke="#7a9610" stroke-width="0.8"/>
<rect x="552.65" y="340.42" width="7.9" height="7.9" fill="#97b81a" stroke="#7a9610" stroke-width="0.8"/>
<rect x="559.05" y="345.25" width="7.9" height="7.9" fill="#97b81a" stroke="#7a9610" stroke-width="0.8"/>
<rect x="565.45" y="336.89" width="7.9" height="7.9" fill="#97b81a" stroke="#7a9610" stroke-width="0.8"/>
<rect x="571.85" y="330.09" width="7.9" height="7.9" fill="#97b81a" stroke="#7a9610" stroke-width="0.8"/>
<rect x="578.25" y="326.81" width="7.9" height="7.9" fill="#97b81a" stroke="#7a9610" stroke-width="0.8"/>
<rect x="584.65" y="323.78" width="7.9" height="7.9" fill="#97b81a" stroke="#7a9610" stroke-width="0.8"/>
<rect x="591.05" y="337.55" width="7.9" height="7.9" fill="#97b81a" stroke="#7a9610" stroke-width="0.8"/>
<rect x="597.45" y="332.39" width="7.9" height="7.9" fill="#97b81a" stroke="#7a9610" stroke-width="0.8"/>
<rect x="603.85" y="327.88" width="7.9" height="7.9" fill="#97b81a" stroke="#7a9610" stroke-width="0.8"/>
<rect x="610.25" y="324.35" width="7.9" height="7.9" fill="#97b81a" stroke="#7a9610" stroke-width="0.8"/>
<rect x="616.65" y="337.55" width="7.9" height="7.9" fill="#97b81a" stroke="#7a9610" stroke-width="0.8"/>
<rect x="623.05" y="331.81" width="7.9" height="7.9" fill="#97b81a" stroke="#7a9610" stroke-width="0.8"/>
<rect x="629.45" y="328.29" width="7.9" height="7.9" fill="#97b81a" stroke="#7a9610" stroke-width="0.8"/>
<rect x="635.85" y="322.88" width="7.9" height="7.9" fill="#97b81a" stroke="#7a9610" stroke-width="0.8"/>
<rect x="642.25" y="316.08" width="7.9" height="7.9" fill="#97b81a" stroke="#7a9610" stroke-width="0.8"/>
<rect x="648.65" y="308.95" width="7.9" height="7.9" fill="#97b81a" stroke="#7a9610" stroke-width="0.8"/>
<rect x="655.05" y="314.85" width="7.9" height="7.9" fill="#97b81a" stroke="#7a9610" stroke-width="0.8"/>
<rect x="661.45" y="310.75" width="7.9" height="7.9" fill="#97b81a" stroke="#7a9610" stroke-width="0.8"/>
<rect x="667.85" y="300.02" width="7.9" height="7.9" fill="#97b81a" stroke="#7a9610" stroke-width="0.8"/>
<rect x="674.25" y="300.02" width="7.9" height="7.9" fill="#97b81a" stroke="#7a9610" stroke-width="0.8"/>
<rect x="680.65" y="306.41" width="7.9" height="7.9" fill="#97b81a" stroke="#7a9610" stroke-width="0.8"/>
<rect x="687.05" y="298.95" width="7.9" height="7.9" fill="#97b81a" stroke="#7a9610" stroke-width="0.8"/>
<rect x="693.45" y="283.05" width="7.9" height="7.9" fill="#97b81a" stroke="#7a9610" stroke-width="0.8"/>
<rect x="699.85" y="273.95" width="7.9" height="7.9" fill="#97b81a" stroke="#7a9610" stroke-width="0.8"/>
<rect x="706.25" y="259.86" width="7.9" height="7.9" fill="#97b81a" stroke="#7a9610" stroke-width="0.8"/>
<rect x="712.65" y="247.32" width="7.9" height="7.9" fill="#97b81a" stroke="#7a9610" stroke-width="0.8"/>
<rect x="719.05" y="238.63" width="7.9" height="7.9" fill="#97b81a" stroke="#7a9610" stroke-width="0.8"/>
<rect x="725.45" y="247.32" width="7.9" height="7.9" fill="#97b81a" stroke="#7a9610" stroke-width="0.8"/>
<rect x="731.85" y="287.72" width="7.9" height="7.9" fill="#97b81a" stroke="#7a9610" stroke-width="0.8"/>
<rect x="738.25" y="286.08" width="7.9" height="7.9" fill="#97b81a" stroke="#7a9610" stroke-width="0.8"/>
<rect x="744.65" y="283.71" width="7.9" height="7.9" fill="#97b81a" stroke="#7a9610" stroke-width="0.8"/>
<rect x="751.05" y="277.40" width="7.9" height="7.9" fill="#97b81a" stroke="#7a9610" stroke-width="0.8"/>
<rect x="757.45" y="278.05" width="7.9" height="7.9" fill="#97b81a" stroke="#7a9610" stroke-width="0.8"/>
<rect x="763.85" y="259.45" width="7.9" height="7.9" fill="#97b81a" stroke="#7a9610" stroke-width="0.8"/>
<rect x="770.25" y="251.75" width="7.9" height="7.9" fill="#97b81a" stroke="#7a9610" stroke-width="0.8"/>
<rect x="776.65" y="234.13" width="7.9" height="7.9" fill="#97b81a" stroke="#7a9610" stroke-width="0.8"/>
<rect x="783.05" y="218.97" width="7.9" height="7.9" fill="#97b81a" stroke="#7a9610" stroke-width="0.8"/>
<rect x="789.45" y="220.11" width="7.9" height="7.9" fill="#97b81a" stroke="#7a9610" stroke-width="0.8"/>
<rect x="795.85" y="203.23" width="7.9" height="7.9" fill="#97b81a" stroke="#7a9610" stroke-width="0.8"/>
<rect x="802.25" y="189.96" width="7.9" height="7.9" fill="#97b81a" stroke="#7a9610" stroke-width="0.8"/>
<rect x="808.65" y="182.33" width="7.9" height="7.9" fill="#97b81a" stroke="#7a9610" stroke-width="0.8"/>
<rect x="815.05" y="176.93" width="7.9" height="7.9" fill="#97b81a" stroke="#7a9610" stroke-width="0.8"/>
<rect x="821.45" y="159.14" width="7.9" height="7.9" fill="#97b81a" stroke="#7a9610" stroke-width="0.8"/>
<rect x="827.85" y="147.01" width="7.9" height="7.9" fill="#97b81a" stroke="#7a9610" stroke-width="0.8"/>
<rect x="834.25" y="124.81" width="7.9" height="7.9" fill="#97b81a" stroke="#7a9610" stroke-width="0.8"/>
<rect x="840.65" y="100.14" width="7.9" height="7.9" fill="#97b81a" stroke="#7a9610" stroke-width="0.8"/>
<rect x="847.05" y="116.28" width="7.9" height="7.9" fill="#97b81a" stroke="#7a9610" stroke-width="0.8"/>
<rect x="853.45" y="119.15" width="7.9" height="7.9" fill="#97b81a" stroke="#7a9610" stroke-width="0.8"/>
<rect x="859.85" y="104.15" width="7.9" height="7.9" fill="#97b81a" stroke="#7a9610" stroke-width="0.8"/>
<rect x="866.25" y="75.23" width="7.9" height="7.9" fill="#97b81a" stroke="#7a9610" stroke-width="0.8"/>
<rect x="872.65" y="85.96" width="7.9" height="7.9" fill="#97b81a" stroke="#7a9610" stroke-width="0.8"/>
<rect x="879.05" y="76.87" width="7.9" height="7.9" fill="#97b81a" stroke="#7a9610" stroke-width="0.8"/>
<rect x="885.45" y="119.73" width="7.9" height="7.9" fill="#97b81a" stroke="#7a9610" stroke-width="0.8"/>
<rect x="891.85" y="96.45" width="7.9" height="7.9" fill="#97b81a" stroke="#7a9610" stroke-width="0.8"/>
<polyline points="127.80,439.43 134.20,439.80 140.60,440.17 147.00,440.62 153.40,441.07 159.80,441.11 166.20,441.15 172.60,440.99 179.00,440.82 185.40,440.29 191.80,439.76 198.20,438.73 204.60,437.71 211.00,436.99 217.40,436.27 223.80,435.56 230.20,434.84 236.60,434.12 243.00,433.41 249.40,432.69 255.80,431.97 262.20,431.48 268.60,430.99 275.00,430.50 281.40,430.00 287.80,429.51 294.20,429.02 300.60,428.53 307.00,428.04 313.40,427.55 319.80,427.05 326.20,426.89 332.60,426.73 339.00,426.56 345.40,426.40 351.80,426.23 358.20,426.07 364.60,425.91 371.00,425.74 377.40,425.58 383.80,425.42 390.20,425.01 396.60,424.60 403.00,424.19 409.40,423.78 415.80,422.55 422.20,421.32 428.60,420.09 435.00,419.27 441.40,418.61 447.80,418.61 454.20,417.51 460.60,416.40 467.00,413.94 473.40,412.55 479.80,412.55 486.20,413.12 492.60,413.12 499.00,413.12 505.40,412.55 511.80,411.48 518.20,410.66 524.60,409.84 531.00,409.02 537.40,408.21 543.80,407.39 550.20,412.30 556.60,410.66 563.00,409.02 569.40,409.43 575.80,409.84 582.20,409.93 588.60,410.01 595.00,409.84 601.40,404.93 607.80,397.88 614.20,394.27 620.60,391.24 627.00,389.44 633.40,390.91 639.80,393.04 646.20,391.24 652.60,389.44 659.00,388.54 665.40,387.31 671.80,383.87 678.20,382.15 684.60,377.31 691.00,372.48 697.40,369.69 703.80,366.41 710.20,363.13 716.60,359.86 723.00,357.40 729.40,354.77 735.80,348.71 742.20,330.52 748.60,321.83 755.00,311.26 761.40,321.01 767.80,313.72 774.20,311.91 780.60,305.60 787.00,300.20 793.40,302.08 799.80,300.69 806.20,286.51 812.60,272.41 819.00,256.19 825.40,246.44 831.80,233.32 838.20,232.83 844.60,232.01 851.00,229.55 857.40,246.27 863.80,228.24 870.20,227.26 876.60,230.05 883.00,233.00 889.40,205.05 895.80,182.92" fill="none" stroke="#2e4a68" stroke-width="1.1"/>
<rect x="123.85" y="435.48" width="7.9" height="7.9" fill="#1b66b3" stroke="#124a86" stroke-width="0.8"/>
<rect x="130.25" y="435.85" width="7.9" height="7.9" fill="#1b66b3" stroke="#124a86" stroke-width="0.8"/>
<rect x="136.65" y="436.22" width="7.9" height="7.9" fill="#1b66b3" stroke="#124a86" stroke-width="0.8"/>
<rect x="143.05" y="436.67" width="7.9" height="7.9" fill="#1b66b3" stroke="#124a86" stroke-width="0.8"/>
<rect x="149.45" y="437.12" width="7.9" height="7.9" fill="#1b66b3" stroke="#124a86" stroke-width="0.8"/>
<rect x="155.85" y="437.16" width="7.9" height="7.9" fill="#1b66b3" stroke="#124a86" stroke-width="0.8"/>
<rect x="162.25" y="437.20" width="7.9" height="7.9" fill="#1b66b3" stroke="#124a86" stroke-width="0.8"/>
<rect x="168.65" y="437.04" width="7.9" height="7.9" fill="#1b66b3" stroke="#124a86" stroke-width="0.8"/>
<rect x="175.05" y="436.87" width="7.9" height="7.9" fill="#1b66b3" stroke="#124a86" stroke-width="0.8"/>
<rect x="181.45" y="436.34" width="7.9" height="7.9" fill="#1b66b3" stroke="#124a86" stroke-width="0.8"/>
<rect x="187.85" y="435.81" width="7.9" height="7.9" fill="#1b66b3" stroke="#124a86" stroke-width="0.8"/>
<rect x="194.25" y="434.78" width="7.9" height="7.9" fill="#1b66b3" stroke="#124a86" stroke-width="0.8"/>
<rect x="200.65" y="433.76" width="7.9" height="7.9" fill="#1b66b3" stroke="#124a86" stroke-width="0.8"/>
<rect x="207.05" y="433.04" width="7.9" height="7.9" fill="#1b66b3" stroke="#124a86" stroke-width="0.8"/>
<rect x="213.45" y="432.32" width="7.9" height="7.9" fill="#1b66b3" stroke="#124a86" stroke-width="0.8"/>
<rect x="219.85" y="431.61" width="7.9" height="7.9" fill="#1b66b3" stroke="#124a86" stroke-width="0.8"/>
<rect x="226.25" y="430.89" width="7.9" height="7.9" fill="#1b66b3" stroke="#124a86" stroke-width="0.8"/>
<rect x="232.65" y="430.17" width="7.9" height="7.9" fill="#1b66b3" stroke="#124a86" stroke-width="0.8"/>
<rect x="239.05" y="429.46" width="7.9" height="7.9" fill="#1b66b3" stroke="#124a86" stroke-width="0.8"/>
<rect x="245.45" y="428.74" width="7.9" height="7.9" fill="#1b66b3" stroke="#124a86" stroke-width="0.8"/>
<rect x="251.85" y="428.02" width="7.9" height="7.9" fill="#1b66b3" stroke="#124a86" stroke-width="0.8"/>
<rect x="258.25" y="427.53" width="7.9" height="7.9" fill="#1b66b3" stroke="#124a86" stroke-width="0.8"/>
<rect x="264.65" y="427.04" width="7.9" height="7.9" fill="#1b66b3" stroke="#124a86" stroke-width="0.8"/>
<rect x="271.05" y="426.55" width="7.9" height="7.9" fill="#1b66b3" stroke="#124a86" stroke-width="0.8"/>
<rect x="277.45" y="426.05" width="7.9" height="7.9" fill="#1b66b3" stroke="#124a86" stroke-width="0.8"/>
<rect x="283.85" y="425.56" width="7.9" height="7.9" fill="#1b66b3" stroke="#124a86" stroke-width="0.8"/>
<rect x="290.25" y="425.07" width="7.9" height="7.9" fill="#1b66b3" stroke="#124a86" stroke-width="0.8"/>
<rect x="296.65" y="424.58" width="7.9" height="7.9" fill="#1b66b3" stroke="#124a86" stroke-width="0.8"/>
<rect x="303.05" y="424.09" width="7.9" height="7.9" fill="#1b66b3" stroke="#124a86" stroke-width="0.8"/>
<rect x="309.45" y="423.60" width="7.9" height="7.9" fill="#1b66b3" stroke="#124a86" stroke-width="0.8"/>
<rect x="315.85" y="423.10" width="7.9" height="7.9" fill="#1b66b3" stroke="#124a86" stroke-width="0.8"/>
<rect x="322.25" y="422.94" width="7.9" height="7.9" fill="#1b66b3" stroke="#124a86" stroke-width="0.8"/>
<rect x="328.65" y="422.78" width="7.9" height="7.9" fill="#1b66b3" stroke="#124a86" stroke-width="0.8"/>
<rect x="335.05" y="422.61" width="7.9" height="7.9" fill="#1b66b3" stroke="#124a86" stroke-width="0.8"/>
<rect x="341.45" y="422.45" width="7.9" height="7.9" fill="#1b66b3" stroke="#124a86" stroke-width="0.8"/>
<rect x="347.85" y="422.28" width="7.9" height="7.9" fill="#1b66b3" stroke="#124a86" stroke-width="0.8"/>
<rect x="354.25" y="422.12" width="7.9" height="7.9" fill="#1b66b3" stroke="#124a86" stroke-width="0.8"/>
<rect x="360.65" y="421.96" width="7.9" height="7.9" fill="#1b66b3" stroke="#124a86" stroke-width="0.8"/>
<rect x="367.05" y="421.79" width="7.9" height="7.9" fill="#1b66b3" stroke="#124a86" stroke-width="0.8"/>
<rect x="373.45" y="421.63" width="7.9" height="7.9" fill="#1b66b3" stroke="#124a86" stroke-width="0.8"/>
<rect x="379.85" y="421.47" width="7.9" height="7.9" fill="#1b66b3" stroke="#124a86" stroke-width="0.8"/>
<rect x="386.25" y="421.06" width="7.9" height="7.9" fill="#1b66b3" stroke="#124a86" stroke-width="0.8"/>
<rect x="392.65" y="420.65" width="7.9" height="7.9" fill="#1b66b3" stroke="#124a86" stroke-width="0.8"/>
<rect x="399.05" y="420.24" width="7.9" height="7.9" fill="#1b66b3" stroke="#124a86" stroke-width="0.8"/>
<rect x="405.45" y="419.83" width="7.9" height="7.9" fill="#1b66b3" stroke="#124a86" stroke-width="0.8"/>
<rect x="411.85" y="418.60" width="7.9" height="7.9" fill="#1b66b3" stroke="#124a86" stroke-width="0.8"/>
<rect x="418.25" y="417.37" width="7.9" height="7.9" fill="#1b66b3" stroke="#124a86" stroke-width="0.8"/>
<rect x="424.65" y="416.14" width="7.9" height="7.9" fill="#1b66b3" stroke="#124a86" stroke-width="0.8"/>
<rect x="431.05" y="415.32" width="7.9" height="7.9" fill="#1b66b3" stroke="#124a86" stroke-width="0.8"/>
<rect x="437.45" y="414.66" width="7.9" height="7.9" fill="#1b66b3" stroke="#124a86" stroke-width="0.8"/>
<rect x="443.85" y="414.66" width="7.9" height="7.9" fill="#1b66b3" stroke="#124a86" stroke-width="0.8"/>
<rect x="450.25" y="413.56" width="7.9" height="7.9" fill="#1b66b3" stroke="#124a86" stroke-width="0.8"/>
<rect x="456.65" y="412.45" width="7.9" height="7.9" fill="#1b66b3" stroke="#124a86" stroke-width="0.8"/>
<rect x="463.05" y="409.99" width="7.9" height="7.9" fill="#1b66b3" stroke="#124a86" stroke-width="0.8"/>
<rect x="469.45" y="408.60" width="7.9" height="7.9" fill="#1b66b3" stroke="#124a86" stroke-width="0.8"/>
<rect x="475.85" y="408.60" width="7.9" height="7.9" fill="#1b66b3" stroke="#124a86" stroke-width="0.8"/>
<rect x="482.25" y="409.17" width="7.9" height="7.9" fill="#1b66b3" stroke="#124a86" stroke-width="0.8"/>
<rect x="488.65" y="409.17" width="7.9" height="7.9" fill="#1b66b3" stroke="#124a86" stroke-width="0.8"/>
<rect x="495.05" y="409.17" width="7.9" height="7.9" fill="#1b66b3" stroke="#124a86" stroke-width="0.8"/>
<rect x="501.45" y="408.60" width="7.9" height="7.9" fill="#1b66b3" stroke="#124a86" stroke-width="0.8"/>
<rect x="507.85" y="407.53" width="7.9" height="7.9" fill="#1b66b3" stroke="#124a86" stroke-width="0.8"/>
<rect x="514.25" y="406.71" width="7.9" height="7.9" fill="#1b66b3" stroke="#124a86" stroke-width="0.8"/>
<rect x="520.65" y="405.89" width="7.9" height="7.9" fill="#1b66b3" stroke="#124a86" stroke-width="0.8"/>
<rect x="527.05" y="405.07" width="7.9" height="7.9" fill="#1b66b3" stroke="#124a86" stroke-width="0.8"/>
<rect x="533.45" y="404.26" width="7.9" height="7.9" fill="#1b66b3" stroke="#124a86" stroke-width="0.8"/>
<rect x="539.85" y="403.44" width="7.9" height="7.9" fill="#1b66b3" stroke="#124a86" stroke-width="0.8"/>
<rect x="546.25" y="408.35" width="7.9" height="7.9" fill="#1b66b3" stroke="#124a86" stroke-width="0.8"/>
<rect x="552.65" y="406.71" width="7.9" height="7.9" fill="#1b66b3" stroke="#124a86" stroke-width="0.8"/>
<rect x="559.05" y="405.07" width="7.9" height="7.9" fill="#1b66b3" stroke="#124a86" stroke-width="0.8"/>
<rect x="565.45" y="405.48" width="7.9" height="7.9" fill="#1b66b3" stroke="#124a86" stroke-width="0.8"/>
<rect x="571.85" y="405.89" width="7.9" height="7.9" fill="#1b66b3" stroke="#124a86" stroke-width="0.8"/>
<rect x="578.25" y="405.98" width="7.9" height="7.9" fill="#1b66b3" stroke="#124a86" stroke-width="0.8"/>
<rect x="584.65" y="406.06" width="7.9" height="7.9" fill="#1b66b3" stroke="#124a86" stroke-width="0.8"/>
<rect x="591.05" y="405.89" width="7.9" height="7.9" fill="#1b66b3" stroke="#124a86" stroke-width="0.8"/>
<rect x="597.45" y="400.98" width="7.9" height="7.9" fill="#1b66b3" stroke="#124a86" stroke-width="0.8"/>
<rect x="603.85" y="393.93" width="7.9" height="7.9" fill="#1b66b3" stroke="#124a86" stroke-width="0.8"/>
<rect x="610.25" y="390.32" width="7.9" height="7.9" fill="#1b66b3" stroke="#124a86" stroke-width="0.8"/>
<rect x="616.65" y="387.29" width="7.9" height="7.9" fill="#1b66b3" stroke="#124a86" stroke-width="0.8"/>
<rect x="623.05" y="385.49" width="7.9" height="7.9" fill="#1b66b3" stroke="#124a86" stroke-width="0.8"/>
<rect x="629.45" y="386.96" width="7.9" height="7.9" fill="#1b66b3" stroke="#124a86" stroke-width="0.8"/>
<rect x="635.85" y="389.09" width="7.9" height="7.9" fill="#1b66b3" stroke="#124a86" stroke-width="0.8"/>
<rect x="642.25" y="387.29" width="7.9" height="7.9" fill="#1b66b3" stroke="#124a86" stroke-width="0.8"/>
<rect x="648.65" y="385.49" width="7.9" height="7.9" fill="#1b66b3" stroke="#124a86" stroke-width="0.8"/>
<rect x="655.05" y="384.59" width="7.9" height="7.9" fill="#1b66b3" stroke="#124a86" stroke-width="0.8"/>
<rect x="661.45" y="383.36" width="7.9" height="7.9" fill="#1b66b3" stroke="#124a86" stroke-width="0.8"/>
<rect x="667.85" y="379.92" width="7.9" height="7.9" fill="#1b66b3" stroke="#124a86" stroke-width="0.8"/>
<rect x="674.25" y="378.20" width="7.9" height="7.9" fill="#1b66b3" stroke="#124a86" stroke-width="0.8"/>
<rect x="680.65" y="373.36" width="7.9" height="7.9" fill="#1b66b3" stroke="#124a86" stroke-width="0.8"/>
<rect x="687.05" y="368.53" width="7.9" height="7.9" fill="#1b66b3" stroke="#124a86" stroke-width="0.8"/>
<rect x="693.45" y="365.74" width="7.9" height="7.9" fill="#1b66b3" stroke="#124a86" stroke-width="0.8"/>
<rect x="699.85" y="362.46" width="7.9" height="7.9" fill="#1b66b3" stroke="#124a86" stroke-width="0.8"/>
<rect x="706.25" y="359.18" width="7.9" height="7.9" fill="#1b66b3" stroke="#124a86" stroke-width="0.8"/>
<rect x="712.65" y="355.91" width="7.9" height="7.9" fill="#1b66b3" stroke="#124a86" stroke-width="0.8"/>
<rect x="719.05" y="353.45" width="7.9" height="7.9" fill="#1b66b3" stroke="#124a86" stroke-width="0.8"/>
<rect x="725.45" y="350.82" width="7.9" height="7.9" fill="#1b66b3" stroke="#124a86" stroke-width="0.8"/>
<rect x="731.85" y="344.76" width="7.9" height="7.9" fill="#1b66b3" stroke="#124a86" stroke-width="0.8"/>
<rect x="738.25" y="326.57" width="7.9" height="7.9" fill="#1b66b3" stroke="#124a86" stroke-width="0.8"/>
<rect x="744.65" y="317.88" width="7.9" height="7.9" fill="#1b66b3" stroke="#124a86" stroke-width="0.8"/>
<rect x="751.05" y="307.31" width="7.9" height="7.9" fill="#1b66b3" stroke="#124a86" stroke-width="0.8"/>
<rect x="757.45" y="317.06" width="7.9" height="7.9" fill="#1b66b3" stroke="#124a86" stroke-width="0.8"/>
<rect x="763.85" y="309.77" width="7.9" height="7.9" fill="#1b66b3" stroke="#124a86" stroke-width="0.8"/>
<rect x="770.25" y="307.96" width="7.9" height="7.9" fill="#1b66b3" stroke="#124a86" stroke-width="0.8"/>
<rect x="776.65" y="301.65" width="7.9" height="7.9" fill="#1b66b3" stroke="#124a86" stroke-width="0.8"/>
<rect x="783.05" y="296.25" width="7.9" height="7.9" fill="#1b66b3" stroke="#124a86" stroke-width="0.8"/>
<rect x="789.45" y="298.13" width="7.9" height="7.9" fill="#1b66b3" stroke="#124a86" stroke-width="0.8"/>
<rect x="795.85" y="296.74" width="7.9" height="7.9" fill="#1b66b3" stroke="#124a86" stroke-width="0.8"/>
<rect x="802.25" y="282.56" width="7.9" height="7.9" fill="#1b66b3" stroke="#124a86" stroke-width="0.8"/>
<rect x="808.65" y="268.46" width="7.9" height="7.9" fill="#1b66b3" stroke="#124a86" stroke-width="0.8"/>
<rect x="815.05" y="252.24" width="7.9" height="7.9" fill="#1b66b3" stroke="#124a86" stroke-width="0.8"/>
<rect x="821.45" y="242.49" width="7.9" height="7.9" fill="#1b66b3" stroke="#124a86" stroke-width="0.8"/>
<rect x="827.85" y="229.37" width="7.9" height="7.9" fill="#1b66b3" stroke="#124a86" stroke-width="0.8"/>
<rect x="834.25" y="228.88" width="7.9" height="7.9" fill="#1b66b3" stroke="#124a86" stroke-width="0.8"/>
<rect x="840.65" y="228.06" width="7.9" height="7.9" fill="#1b66b3" stroke="#124a86" stroke-width="0.8"/>
<rect x="847.05" y="225.60" width="7.9" height="7.9" fill="#1b66b3" stroke="#124a86" stroke-width="0.8"/>
<rect x="853.45" y="242.32" width="7.9" height="7.9" fill="#1b66b3" stroke="#124a86" stroke-width="0.8"/>
<rect x="859.85" y="224.29" width="7.9" height="7.9" fill="#1b66b3" stroke="#124a86" stroke-width="0.8"/>
<rect x="866.25" y="223.31" width="7.9" height="7.9" fill="#1b66b3" stroke="#124a86" stroke-width="0.8"/>
<rect x="872.65" y="226.10" width="7.9" height="7.9" fill="#1b66b3" stroke="#124a86" stroke-width="0.8"/>
<rect x="879.05" y="229.05" width="7.9" height="7.9" fill="#1b66b3" stroke="#124a86" stroke-width="0.8"/>
<rect x="885.45" y="201.10" width="7.9" height="7.9" fill="#1b66b3" stroke="#124a86" stroke-width="0.8"/>
<rect x="891.85" y="178.97" width="7.9" height="7.9" fill="#1b66b3" stroke="#124a86" stroke-width="0.8"/>
<polyline points="127.80,439.43 134.20,439.01 140.60,438.59 147.00,438.17 153.40,437.76 159.80,437.34 166.20,436.92 172.60,436.50 179.00,436.08 185.40,435.67 191.80,435.25 198.20,434.76 204.60,434.27 211.00,433.77 217.40,433.28 223.80,432.79 230.20,432.01 236.60,431.23 243.00,430.45 249.40,429.68 255.80,429.10 262.20,427.67 268.60,426.23 275.00,424.51 281.40,422.79 287.80,422.55 294.20,424.10 300.60,423.37 307.00,422.14 313.40,421.60 319.80,421.07 326.20,420.91 332.60,423.78 339.00,422.96 345.40,421.73 351.80,421.07 358.20,420.91 364.60,419.68 371.00,419.43 377.40,420.91 383.80,420.01 390.20,422.14 396.60,423.78 403.00,425.42 409.40,426.23 415.80,426.64 422.20,426.64 428.60,426.23 435.00,425.82 441.40,425.01 447.80,424.19 454.20,423.37 460.60,422.55 467.00,421.81 473.40,421.32 479.80,420.91 486.20,420.50 492.60,420.09 499.00,419.27 505.40,418.45 511.80,417.38 518.20,417.06 524.60,416.56 531.00,414.76 537.40,414.02 543.80,413.94 550.20,413.94 556.60,413.53 563.00,413.12 569.40,412.30 575.80,411.48 582.20,410.42 588.60,409.43 595.00,408.21 601.40,407.39 607.80,406.48 614.20,406.16 620.60,405.91 627.00,405.75 633.40,405.34 639.80,404.93 646.20,403.29 652.60,401.57 659.00,401.16 665.40,400.42 671.80,399.35 678.20,397.14 684.60,393.78 691.00,395.50 697.40,393.25 703.80,391.00 710.20,388.74 716.60,386.49 723.00,384.24 729.40,381.98 735.80,379.73 742.20,377.47 748.60,375.22 755.00,372.97 761.40,370.71 767.80,368.46 774.20,366.21 780.60,363.95 787.00,361.70 793.40,359.45 799.80,357.40 806.20,354.94 812.60,353.30 819.00,349.61 825.40,341.17 831.80,339.78 838.20,334.37 844.60,327.32 851.00,324.86 857.40,319.70 863.80,315.85 870.20,308.23 876.60,292.82 883.00,297.16 889.40,289.54 895.80,276.59" fill="none" stroke="#682b32" stroke-width="1.1"/>
<rect x="123.85" y="435.48" width="7.9" height="7.9" fill="#b31526" stroke="#870d1a" stroke-width="0.8"/>
<rect x="130.25" y="435.06" width="7.9" height="7.9" fill="#b31526" stroke="#870d1a" stroke-width="0.8"/>
<rect x="136.65" y="434.64" width="7.9" height="7.9" fill="#b31526" stroke="#870d1a" stroke-width="0.8"/>
<rect x="143.05" y="434.22" width="7.9" height="7.9" fill="#b31526" stroke="#870d1a" stroke-width="0.8"/>
<rect x="149.45" y="433.81" width="7.9" height="7.9" fill="#b31526" stroke="#870d1a" stroke-width="0.8"/>
<rect x="155.85" y="433.39" width="7.9" height="7.9" fill="#b31526" stroke="#870d1a" stroke-width="0.8"/>
<rect x="162.25" y="432.97" width="7.9" height="7.9" fill="#b31526" stroke="#870d1a" stroke-width="0.8"/>
<rect x="168.65" y="432.55" width="7.9" height="7.9" fill="#b31526" stroke="#870d1a" stroke-width="0.8"/>
<rect x="175.05" y="432.13" width="7.9" height="7.9" fill="#b31526" stroke="#870d1a" stroke-width="0.8"/>
<rect x="181.45" y="431.72" width="7.9" height="7.9" fill="#b31526" stroke="#870d1a" stroke-width="0.8"/>
<rect x="187.85" y="431.30" width="7.9" height="7.9" fill="#b31526" stroke="#870d1a" stroke-width="0.8"/>
<rect x="194.25" y="430.81" width="7.9" height="7.9" fill="#b31526" stroke="#870d1a" stroke-width="0.8"/>
<rect x="200.65" y="430.32" width="7.9" height="7.9" fill="#b31526" stroke="#870d1a" stroke-width="0.8"/>
<rect x="207.05" y="429.82" width="7.9" height="7.9" fill="#b31526" stroke="#870d1a" stroke-width="0.8"/>
<rect x="213.45" y="429.33" width="7.9" height="7.9" fill="#b31526" stroke="#870d1a" stroke-width="0.8"/>
<rect x="219.85" y="428.84" width="7.9" height="7.9" fill="#b31526" stroke="#870d1a" stroke-width="0.8"/>
<rect x="226.25" y="428.06" width="7.9" height="7.9" fill="#b31526" stroke="#870d1a" stroke-width="0.8"/>
<rect x="232.65" y="427.28" width="7.9" height="7.9" fill="#b31526" stroke="#870d1a" stroke-width="0.8"/>
<rect x="239.05" y="426.50" width="7.9" height="7.9" fill="#b31526" stroke="#870d1a" stroke-width="0.8"/>
<rect x="245.45" y="425.73" width="7.9" height="7.9" fill="#b31526" stroke="#870d1a" stroke-width="0.8"/>
<rect x="251.85" y="425.15" width="7.9" height="7.9" fill="#b31526" stroke="#870d1a" stroke-width="0.8"/>
<rect x="258.25" y="423.72" width="7.9" height="7.9" fill="#b31526" stroke="#870d1a" stroke-width="0.8"/>
<rect x="264.65" y="422.28" width="7.9" height="7.9" fill="#b31526" stroke="#870d1a" stroke-width="0.8"/>
<rect x="271.05" y="420.56" width="7.9" height="7.9" fill="#b31526" stroke="#870d1a" stroke-width="0.8"/>
<rect x="277.45" y="418.84" width="7.9" height="7.9" fill="#b31526" stroke="#870d1a" stroke-width="0.8"/>
<rect x="283.85" y="418.60" width="7.9" height="7.9" fill="#b31526" stroke="#870d1a" stroke-width="0.8"/>
<rect x="290.25" y="420.15" width="7.9" height="7.9" fill="#b31526" stroke="#870d1a" stroke-width="0.8"/>
<rect x="296.65" y="419.42" width="7.9" height="7.9" fill="#b31526" stroke="#870d1a" stroke-width="0.8"/>
<rect x="303.05" y="418.19" width="7.9" height="7.9" fill="#b31526" stroke="#870d1a" stroke-width="0.8"/>
<rect x="309.45" y="417.65" width="7.9" height="7.9" fill="#b31526" stroke="#870d1a" stroke-width="0.8"/>
<rect x="315.85" y="417.12" width="7.9" height="7.9" fill="#b31526" stroke="#870d1a" stroke-width="0.8"/>
<rect x="322.25" y="416.96" width="7.9" height="7.9" fill="#b31526" stroke="#870d1a" stroke-width="0.8"/>
<rect x="328.65" y="419.83" width="7.9" height="7.9" fill="#b31526" stroke="#870d1a" stroke-width="0.8"/>
<rect x="335.05" y="419.01" width="7.9" height="7.9" fill="#b31526" stroke="#870d1a" stroke-width="0.8"/>
<rect x="341.45" y="417.78" width="7.9" height="7.9" fill="#b31526" stroke="#870d1a" stroke-width="0.8"/>
<rect x="347.85" y="417.12" width="7.9" height="7.9" fill="#b31526" stroke="#870d1a" stroke-width="0.8"/>
<rect x="354.25" y="416.96" width="7.9" height="7.9" fill="#b31526" stroke="#870d1a" stroke-width="0.8"/>
<rect x="360.65" y="415.73" width="7.9" height="7.9" fill="#b31526" stroke="#870d1a" stroke-width="0.8"/>
<rect x="367.05" y="415.48" width="7.9" height="7.9" fill="#b31526" stroke="#870d1a" stroke-width="0.8"/>
<rect x="373.45" y="416.96" width="7.9" height="7.9" fill="#b31526" stroke="#870d1a" stroke-width="0.8"/>
<rect x="379.85" y="416.06" width="7.9" height="7.9" fill="#b31526" stroke="#870d1a" stroke-width="0.8"/>
<rect x="386.25" y="418.19" width="7.9" height="7.9" fill="#b31526" stroke="#870d1a" stroke-width="0.8"/>
<rect x="392.65" y="419.83" width="7.9" height="7.9" fill="#b31526" stroke="#870d1a" stroke-width="0.8"/>
<rect x="399.05" y="421.47" width="7.9" height="7.9" fill="#b31526" stroke="#870d1a" stroke-width="0.8"/>
<rect x="405.45" y="422.28" width="7.9" height="7.9" fill="#b31526" stroke="#870d1a" stroke-width="0.8"/>
<rect x="411.85" y="422.69" width="7.9" height="7.9" fill="#b31526" stroke="#870d1a" stroke-width="0.8"/>
<rect x="418.25" y="422.69" width="7.9" height="7.9" fill="#b31526" stroke="#870d1a" stroke-width="0.8"/>
<rect x="424.65" y="422.28" width="7.9" height="7.9" fill="#b31526" stroke="#870d1a" stroke-width="0.8"/>
<rect x="431.05" y="421.87" width="7.9" height="7.9" fill="#b31526" stroke="#870d1a" stroke-width="0.8"/>
<rect x="437.45" y="421.06" width="7.9" height="7.9" fill="#b31526" stroke="#870d1a" stroke-width="0.8"/>
<rect x="443.85" y="420.24" width="7.9" height="7.9" fill="#b31526" stroke="#870d1a" stroke-width="0.8"/>
<rect x="450.25" y="419.42" width="7.9" height="7.9" fill="#b31526" stroke="#870d1a" stroke-width="0.8"/>
<rect x="456.65" y="418.60" width="7.9" height="7.9" fill="#b31526" stroke="#870d1a" stroke-width="0.8"/>
<rect x="463.05" y="417.86" width="7.9" height="7.9" fill="#b31526" stroke="#870d1a" stroke-width="0.8"/>
<rect x="469.45" y="417.37" width="7.9" height="7.9" fill="#b31526" stroke="#870d1a" stroke-width="0.8"/>
<rect x="475.85" y="416.96" width="7.9" height="7.9" fill="#b31526" stroke="#870d1a" stroke-width="0.8"/>
<rect x="482.25" y="416.55" width="7.9" height="7.9" fill="#b31526" stroke="#870d1a" stroke-width="0.8"/>
<rect x="488.65" y="416.14" width="7.9" height="7.9" fill="#b31526" stroke="#870d1a" stroke-width="0.8"/>
<rect x="495.05" y="415.32" width="7.9" height="7.9" fill="#b31526" stroke="#870d1a" stroke-width="0.8"/>
<rect x="501.45" y="414.50" width="7.9" height="7.9" fill="#b31526" stroke="#870d1a" stroke-width="0.8"/>
<rect x="507.85" y="413.43" width="7.9" height="7.9" fill="#b31526" stroke="#870d1a" stroke-width="0.8"/>
<rect x="514.25" y="413.11" width="7.9" height="7.9" fill="#b31526" stroke="#870d1a" stroke-width="0.8"/>
<rect x="520.65" y="412.61" width="7.9" height="7.9" fill="#b31526" stroke="#870d1a" stroke-width="0.8"/>
<rect x="527.05" y="410.81" width="7.9" height="7.9" fill="#b31526" stroke="#870d1a" stroke-width="0.8"/>
<rect x="533.45" y="410.07" width="7.9" height="7.9" fill="#b31526" stroke="#870d1a" stroke-width="0.8"/>
<rect x="539.85" y="409.99" width="7.9" height="7.9" fill="#b31526" stroke="#870d1a" stroke-width="0.8"/>
<rect x="546.25" y="409.99" width="7.9" height="7.9" fill="#b31526" stroke="#870d1a" stroke-width="0.8"/>
<rect x="552.65" y="409.58" width="7.9" height="7.9" fill="#b31526" stroke="#870d1a" stroke-width="0.8"/>
<rect x="559.05" y="409.17" width="7.9" height="7.9" fill="#b31526" stroke="#870d1a" stroke-width="0.8"/>
<rect x="565.45" y="408.35" width="7.9" height="7.9" fill="#b31526" stroke="#870d1a" stroke-width="0.8"/>
<rect x="571.85" y="407.53" width="7.9" height="7.9" fill="#b31526" stroke="#870d1a" stroke-width="0.8"/>
<rect x="578.25" y="406.47" width="7.9" height="7.9" fill="#b31526" stroke="#870d1a" stroke-width="0.8"/>
<rect x="584.65" y="405.48" width="7.9" height="7.9" fill="#b31526" stroke="#870d1a" stroke-width="0.8"/>
<rect x="591.05" y="404.26" width="7.9" height="7.9" fill="#b31526" stroke="#870d1a" stroke-width="0.8"/>
<rect x="597.45" y="403.44" width="7.9" height="7.9" fill="#b31526" stroke="#870d1a" stroke-width="0.8"/>
<rect x="603.85" y="402.53" width="7.9" height="7.9" fill="#b31526" stroke="#870d1a" stroke-width="0.8"/>
<rect x="610.25" y="402.21" width="7.9" height="7.9" fill="#b31526" stroke="#870d1a" stroke-width="0.8"/>
<rect x="616.65" y="401.96" width="7.9" height="7.9" fill="#b31526" stroke="#870d1a" stroke-width="0.8"/>
<rect x="623.05" y="401.80" width="7.9" height="7.9" fill="#b31526" stroke="#870d1a" stroke-width="0.8"/>
<rect x="629.45" y="401.39" width="7.9" height="7.9" fill="#b31526" stroke="#870d1a" stroke-width="0.8"/>
<rect x="635.85" y="400.98" width="7.9" height="7.9" fill="#b31526" stroke="#870d1a" stroke-width="0.8"/>
<rect x="642.25" y="399.34" width="7.9" height="7.9" fill="#b31526" stroke="#870d1a" stroke-width="0.8"/>
<rect x="648.65" y="397.62" width="7.9" height="7.9" fill="#b31526" stroke="#870d1a" stroke-width="0.8"/>
<rect x="655.05" y="397.21" width="7.9" height="7.9" fill="#b31526" stroke="#870d1a" stroke-width="0.8"/>
<rect x="661.45" y="396.47" width="7.9" height="7.9" fill="#b31526" stroke="#870d1a" stroke-width="0.8"/>
<rect x="667.85" y="395.40" width="7.9" height="7.9" fill="#b31526" stroke="#870d1a" stroke-width="0.8"/>
<rect x="674.25" y="393.19" width="7.9" height="7.9" fill="#b31526" stroke="#870d1a" stroke-width="0.8"/>
<rect x="680.65" y="389.83" width="7.9" height="7.9" fill="#b31526" stroke="#870d1a" stroke-width="0.8"/>
<rect x="687.05" y="391.55" width="7.9" height="7.9" fill="#b31526" stroke="#870d1a" stroke-width="0.8"/>
<rect x="693.45" y="389.30" width="7.9" height="7.9" fill="#b31526" stroke="#870d1a" stroke-width="0.8"/>
<rect x="699.85" y="387.05" width="7.9" height="7.9" fill="#b31526" stroke="#870d1a" stroke-width="0.8"/>
<rect x="706.25" y="384.79" width="7.9" height="7.9" fill="#b31526" stroke="#870d1a" stroke-width="0.8"/>
<rect x="712.65" y="382.54" width="7.9" height="7.9" fill="#b31526" stroke="#870d1a" stroke-width="0.8"/>
<rect x="719.05" y="380.29" width="7.9" height="7.9" fill="#b31526" stroke="#870d1a" stroke-width="0.8"/>
<rect x="725.45" y="378.03" width="7.9" height="7.9" fill="#b31526" stroke="#870d1a" stroke-width="0.8"/>
<rect x="731.85" y="375.78" width="7.9" height="7.9" fill="#b31526" stroke="#870d1a" stroke-width="0.8"/>
<rect x="738.25" y="373.52" width="7.9" height="7.9" fill="#b31526" stroke="#870d1a" stroke-width="0.8"/>
<rect x="744.65" y="371.27" width="7.9" height="7.9" fill="#b31526" stroke="#870d1a" stroke-width="0.8"/>
<rect x="751.05" y="369.02" width="7.9" height="7.9" fill="#b31526" stroke="#870d1a" stroke-width="0.8"/>
<rect x="757.45" y="366.76" width="7.9" height="7.9" fill="#b31526" stroke="#870d1a" stroke-width="0.8"/>
<rect x="763.85" y="364.51" width="7.9" height="7.9" fill="#b31526" stroke="#870d1a" stroke-width="0.8"/>
<rect x="770.25" y="362.26" width="7.9" height="7.9" fill="#b31526" stroke="#870d1a" stroke-width="0.8"/>
<rect x="776.65" y="360.00" width="7.9" height="7.9" fill="#b31526" stroke="#870d1a" stroke-width="0.8"/>
<rect x="783.05" y="357.75" width="7.9" height="7.9" fill="#b31526" stroke="#870d1a" stroke-width="0.8"/>
<rect x="789.45" y="355.50" width="7.9" height="7.9" fill="#b31526" stroke="#870d1a" stroke-width="0.8"/>
<rect x="795.85" y="353.45" width="7.9" height="7.9" fill="#b31526" stroke="#870d1a" stroke-width="0.8"/>
<rect x="802.25" y="350.99" width="7.9" height="7.9" fill="#b31526" stroke="#870d1a" stroke-width="0.8"/>
<rect x="808.65" y="349.35" width="7.9" height="7.9" fill="#b31526" stroke="#870d1a" stroke-width="0.8"/>
<rect x="815.05" y="345.66" width="7.9" height="7.9" fill="#b31526" stroke="#870d1a" stroke-width="0.8"/>
<rect x="821.45" y="337.22" width="7.9" height="7.9" fill="#b31526" stroke="#870d1a" stroke-width="0.8"/>
<rect x="827.85" y="335.83" width="7.9" height="7.9" fill="#b31526" stroke="#870d1a" stroke-width="0.8"/>
<rect x="834.25" y="330.42" width="7.9" height="7.9" fill="#b31526" stroke="#870d1a" stroke-width="0.8"/>
<rect x="840.65" y="323.37" width="7.9" height="7.9" fill="#b31526" stroke="#870d1a" stroke-width="0.8"/>
<rect x="847.05" y="320.91" width="7.9" height="7.9" fill="#b31526" stroke="#870d1a" stroke-width="0.8"/>
<rect x="853.45" y="315.75" width="7.9" height="7.9" fill="#b31526" stroke="#870d1a" stroke-width="0.8"/>
<rect x="859.85" y="311.90" width="7.9" height="7.9" fill="#b31526" stroke="#870d1a" stroke-width="0.8"/>
<rect x="866.25" y="304.28" width="7.9" height="7.9" fill="#b31526" stroke="#870d1a" stroke-width="0.8"/>
<rect x="872.65" y="288.87" width="7.9" height="7.9" fill="#b31526" stroke="#870d1a" stroke-width="0.8"/>
<rect x="879.05" y="293.21" width="7.9" height="7.9" fill="#b31526" stroke="#870d1a" stroke-width="0.8"/>
<rect x="885.45" y="285.59" width="7.9" height="7.9" fill="#b31526" stroke="#870d1a" stroke-width="0.8"/>
<rect x="891.85" y="272.64" width="7.9" height="7.9" fill="#b31526" stroke="#870d1a" stroke-width="0.8"/>
<polyline points="127.80,439.43 134.20,438.67 140.60,437.92 147.00,437.17 153.40,436.41 159.80,435.66 166.20,435.22 172.60,434.77 179.00,434.33 185.40,433.89 191.80,433.45 198.20,433.15 204.60,432.86 211.00,432.56 217.40,432.27 223.80,431.97 230.20,431.56 236.60,431.15 243.00,430.74 249.40,430.33 255.80,429.92 262.20,429.92 268.60,429.92 275.00,429.92 281.40,429.92 287.80,429.92 294.20,429.92 300.60,429.92 307.00,430.33 313.40,431.15 319.80,431.56 326.20,431.32 332.60,431.07 339.00,430.82 345.40,430.58 351.80,430.33 358.20,429.79 364.60,429.24 371.00,428.69 377.40,428.61 383.80,428.53 390.20,427.79 396.60,427.05 403.00,426.89 409.40,426.73 415.80,426.07 422.20,425.42 428.60,423.78 435.00,422.55 441.40,420.91 447.80,418.61 454.20,416.89 460.60,416.03 467.00,415.17 473.40,414.35 479.80,413.70 486.20,412.79 492.60,411.89 499.00,409.72 505.40,407.55 511.80,404.60 518.20,403.94 524.60,402.47 531.00,400.01 537.40,396.81 543.80,394.85 550.20,393.04 556.60,392.14 563.00,391.24 569.40,388.05 575.80,388.95 582.20,386.24 588.60,386.82 595.00,390.34 601.40,388.05 607.80,387.31 614.20,384.44 620.60,377.47 627.00,374.77 633.40,368.87 639.80,362.64 646.20,371.25 652.60,373.38 659.00,368.87 665.40,370.67 671.80,370.18 678.20,369.44 684.60,361.08 691.00,357.40 697.40,358.79 703.80,358.22 710.20,356.74 716.60,350.27 723.00,350.68 729.40,346.66 735.80,337.15 742.20,333.14 748.60,337.56 755.00,345.68 761.40,340.02 767.80,333.96 774.20,331.09 780.60,336.58 787.00,329.53 793.40,342.32 799.80,338.96 806.20,342.65 812.60,350.59 819.00,351.25 825.40,349.45 831.80,349.61 838.20,341.42 844.60,332.48 851.00,338.71 857.40,333.39 863.80,325.76 870.20,316.26 876.60,323.88 883.00,332.07 889.40,328.30 895.80,341.66" fill="none" stroke="#916029" stroke-width="1.1"/>
<rect x="123.85" y="435.48" width="7.9" height="7.9" fill="#fd8d0f" stroke="#d87608" stroke-width="0.8"/>
<rect x="130.25" y="434.72" width="7.9" height="7.9" fill="#fd8d0f" stroke="#d87608" stroke-width="0.8"/>
<rect x="136.65" y="433.97" width="7.9" height="7.9" fill="#fd8d0f" stroke="#d87608" stroke-width="0.8"/>
<rect x="143.05" y="433.22" width="7.9" height="7.9" fill="#fd8d0f" stroke="#d87608" stroke-width="0.8"/>
<rect x="149.45" y="432.46" width="7.9" height="7.9" fill="#fd8d0f" stroke="#d87608" stroke-width="0.8"/>
<rect x="155.85" y="431.71" width="7.9" height="7.9" fill="#fd8d0f" stroke="#d87608" stroke-width="0.8"/>
<rect x="162.25" y="431.27" width="7.9" height="7.9" fill="#fd8d0f" stroke="#d87608" stroke-width="0.8"/>
<rect x="168.65" y="430.82" width="7.9" height="7.9" fill="#fd8d0f" stroke="#d87608" stroke-width="0.8"/>
<rect x="175.05" y="430.38" width="7.9" height="7.9" fill="#fd8d0f" stroke="#d87608" stroke-width="0.8"/>
<rect x="181.45" y="429.94" width="7.9" height="7.9" fill="#fd8d0f" stroke="#d87608" stroke-width="0.8"/>
<rect x="187.85" y="429.50" width="7.9" height="7.9" fill="#fd8d0f" stroke="#d87608" stroke-width="0.8"/>
<rect x="194.25" y="429.20" width="7.9" height="7.9" fill="#fd8d0f" stroke="#d87608" stroke-width="0.8"/>
<rect x="200.65" y="428.91" width="7.9" height="7.9" fill="#fd8d0f" stroke="#d87608" stroke-width="0.8"/>
<rect x="207.05" y="428.61" width="7.9" height="7.9" fill="#fd8d0f" stroke="#d87608" stroke-width="0.8"/>
<rect x="213.45" y="428.32" width="7.9" height="7.9" fill="#fd8d0f" stroke="#d87608" stroke-width="0.8"/>
<rect x="219.85" y="428.02" width="7.9" height="7.9" fill="#fd8d0f" stroke="#d87608" stroke-width="0.8"/>
<rect x="226.25" y="427.61" width="7.9" height="7.9" fill="#fd8d0f" stroke="#d87608" stroke-width="0.8"/>
<rect x="232.65" y="427.20" width="7.9" height="7.9" fill="#fd8d0f" stroke="#d87608" stroke-width="0.8"/>
<rect x="239.05" y="426.79" width="7.9" height="7.9" fill="#fd8d0f" stroke="#d87608" stroke-width="0.8"/>
<rect x="245.45" y="426.38" width="7.9" height="7.9" fill="#fd8d0f" stroke="#d87608" stroke-width="0.8"/>
<rect x="251.85" y="425.97" width="7.9" height="7.9" fill="#fd8d0f" stroke="#d87608" stroke-width="0.8"/>
<rect x="258.25" y="425.97" width="7.9" height="7.9" fill="#fd8d0f" stroke="#d87608" stroke-width="0.8"/>
<rect x="264.65" y="425.97" width="7.9" height="7.9" fill="#fd8d0f" stroke="#d87608" stroke-width="0.8"/>
<rect x="271.05" y="425.97" width="7.9" height="7.9" fill="#fd8d0f" stroke="#d87608" stroke-width="0.8"/>
<rect x="277.45" y="425.97" width="7.9" height="7.9" fill="#fd8d0f" stroke="#d87608" stroke-width="0.8"/>
<rect x="283.85" y="425.97" width="7.9" height="7.9" fill="#fd8d0f" stroke="#d87608" stroke-width="0.8"/>
<rect x="290.25" y="425.97" width="7.9" height="7.9" fill="#fd8d0f" stroke="#d87608" stroke-width="0.8"/>
<rect x="296.65" y="425.97" width="7.9" height="7.9" fill="#fd8d0f" stroke="#d87608" stroke-width="0.8"/>
<rect x="303.05" y="426.38" width="7.9" height="7.9" fill="#fd8d0f" stroke="#d87608" stroke-width="0.8"/>
<rect x="309.45" y="427.20" width="7.9" height="7.9" fill="#fd8d0f" stroke="#d87608" stroke-width="0.8"/>
<rect x="315.85" y="427.61" width="7.9" height="7.9" fill="#fd8d0f" stroke="#d87608" stroke-width="0.8"/>
<rect x="322.25" y="427.37" width="7.9" height="7.9" fill="#fd8d0f" stroke="#d87608" stroke-width="0.8"/>
<rect x="328.65" y="427.12" width="7.9" height="7.9" fill="#fd8d0f" stroke="#d87608" stroke-width="0.8"/>
<rect x="335.05" y="426.87" width="7.9" height="7.9" fill="#fd8d0f" stroke="#d87608" stroke-width="0.8"/>
<rect x="341.45" y="426.63" width="7.9" height="7.9" fill="#fd8d0f" stroke="#d87608" stroke-width="0.8"/>
<rect x="347.85" y="426.38" width="7.9" height="7.9" fill="#fd8d0f" stroke="#d87608" stroke-width="0.8"/>
<rect x="354.25" y="425.84" width="7.9" height="7.9" fill="#fd8d0f" stroke="#d87608" stroke-width="0.8"/>
<rect x="360.65" y="425.29" width="7.9" height="7.9" fill="#fd8d0f" stroke="#d87608" stroke-width="0.8"/>
<rect x="367.05" y="424.74" width="7.9" height="7.9" fill="#fd8d0f" stroke="#d87608" stroke-width="0.8"/>
<rect x="373.45" y="424.66" width="7.9" height="7.9" fill="#fd8d0f" stroke="#d87608" stroke-width="0.8"/>
<rect x="379.85" y="424.58" width="7.9" height="7.9" fill="#fd8d0f" stroke="#d87608" stroke-width="0.8"/>
<rect x="386.25" y="423.84" width="7.9" height="7.9" fill="#fd8d0f" stroke="#d87608" stroke-width="0.8"/>
<rect x="392.65" y="423.10" width="7.9" height="7.9" fill="#fd8d0f" stroke="#d87608" stroke-width="0.8"/>
<rect x="399.05" y="422.94" width="7.9" height="7.9" fill="#fd8d0f" stroke="#d87608" stroke-width="0.8"/>
<rect x="405.45" y="422.78" width="7.9" height="7.9" fill="#fd8d0f" stroke="#d87608" stroke-width="0.8"/>
<rect x="411.85" y="422.12" width="7.9" height="7.9" fill="#fd8d0f" stroke="#d87608" stroke-width="0.8"/>
<rect x="418.25" y="421.47" width="7.9" height="7.9" fill="#fd8d0f" stroke="#d87608" stroke-width="0.8"/>
<rect x="424.65" y="419.83" width="7.9" height="7.9" fill="#fd8d0f" stroke="#d87608" stroke-width="0.8"/>
<rect x="431.05" y="418.60" width="7.9" height="7.9" fill="#fd8d0f" stroke="#d87608" stroke-width="0.8"/>
<rect x="437.45" y="416.96" width="7.9" height="7.9" fill="#fd8d0f" stroke="#d87608" stroke-width="0.8"/>
<rect x="443.85" y="414.66" width="7.9" height="7.9" fill="#fd8d0f" stroke="#d87608" stroke-width="0.8"/>
<rect x="450.25" y="412.94" width="7.9" height="7.9" fill="#fd8d0f" stroke="#d87608" stroke-width="0.8"/>
<rect x="456.65" y="412.08" width="7.9" height="7.9" fill="#fd8d0f" stroke="#d87608" stroke-width="0.8"/>
<rect x="463.05" y="411.22" width="7.9" height="7.9" fill="#fd8d0f" stroke="#d87608" stroke-width="0.8"/>
<rect x="469.45" y="410.40" width="7.9" height="7.9" fill="#fd8d0f" stroke="#d87608" stroke-width="0.8"/>
<rect x="475.85" y="409.75" width="7.9" height="7.9" fill="#fd8d0f" stroke="#d87608" stroke-width="0.8"/>
<rect x="482.25" y="408.84" width="7.9" height="7.9" fill="#fd8d0f" stroke="#d87608" stroke-width="0.8"/>
<rect x="488.65" y="407.94" width="7.9" height="7.9" fill="#fd8d0f" stroke="#d87608" stroke-width="0.8"/>
<rect x="495.05" y="405.77" width="7.9" height="7.9" fill="#fd8d0f" stroke="#d87608" stroke-width="0.8"/>
<rect x="501.45" y="403.60" width="7.9" height="7.9" fill="#fd8d0f" stroke="#d87608" stroke-width="0.8"/>
<rect x="507.85" y="400.65" width="7.9" height="7.9" fill="#fd8d0f" stroke="#d87608" stroke-width="0.8"/>
<rect x="514.25" y="399.99" width="7.9" height="7.9" fill="#fd8d0f" stroke="#d87608" stroke-width="0.8"/>
<rect x="520.65" y="398.52" width="7.9" height="7.9" fill="#fd8d0f" stroke="#d87608" stroke-width="0.8"/>
<rect x="527.05" y="396.06" width="7.9" height="7.9" fill="#fd8d0f" stroke="#d87608" stroke-width="0.8"/>
<rect x="533.45" y="392.86" width="7.9" height="7.9" fill="#fd8d0f" stroke="#d87608" stroke-width="0.8"/>
<rect x="539.85" y="390.90" width="7.9" height="7.9" fill="#fd8d0f" stroke="#d87608" stroke-width="0.8"/>
<rect x="546.25" y="389.09" width="7.9" height="7.9" fill="#fd8d0f" stroke="#d87608" stroke-width="0.8"/>
<rect x="552.65" y="388.19" width="7.9" height="7.9" fill="#fd8d0f" stroke="#d87608" stroke-width="0.8"/>
<rect x="559.05" y="387.29" width="7.9" height="7.9" fill="#fd8d0f" stroke="#d87608" stroke-width="0.8"/>
<rect x="565.45" y="384.10" width="7.9" height="7.9" fill="#fd8d0f" stroke="#d87608" stroke-width="0.8"/>
<rect x="571.85" y="385.00" width="7.9" height="7.9" fill="#fd8d0f" stroke="#d87608" stroke-width="0.8"/>
<rect x="578.25" y="382.29" width="7.9" height="7.9" fill="#fd8d0f" stroke="#d87608" stroke-width="0.8"/>
<rect x="584.65" y="382.87" width="7.9" height="7.9" fill="#fd8d0f" stroke="#d87608" stroke-width="0.8"/>
<rect x="591.05" y="386.39" width="7.9" height="7.9" fill="#fd8d0f" stroke="#d87608" stroke-width="0.8"/>
<rect x="597.45" y="384.10" width="7.9" height="7.9" fill="#fd8d0f" stroke="#d87608" stroke-width="0.8"/>
<rect x="603.85" y="383.36" width="7.9" height="7.9" fill="#fd8d0f" stroke="#d87608" stroke-width="0.8"/>
<rect x="610.25" y="380.49" width="7.9" height="7.9" fill="#fd8d0f" stroke="#d87608" stroke-width="0.8"/>
<rect x="616.65" y="373.52" width="7.9" height="7.9" fill="#fd8d0f" stroke="#d87608" stroke-width="0.8"/>
<rect x="623.05" y="370.82" width="7.9" height="7.9" fill="#fd8d0f" stroke="#d87608" stroke-width="0.8"/>
<rect x="629.45" y="364.92" width="7.9" height="7.9" fill="#fd8d0f" stroke="#d87608" stroke-width="0.8"/>
<rect x="635.85" y="358.69" width="7.9" height="7.9" fill="#fd8d0f" stroke="#d87608" stroke-width="0.8"/>
<rect x="642.25" y="367.30" width="7.9" height="7.9" fill="#fd8d0f" stroke="#d87608" stroke-width="0.8"/>
<rect x="648.65" y="369.43" width="7.9" height="7.9" fill="#fd8d0f" stroke="#d87608" stroke-width="0.8"/>
<rect x="655.05" y="364.92" width="7.9" height="7.9" fill="#fd8d0f" stroke="#d87608" stroke-width="0.8"/>
<rect x="661.45" y="366.72" width="7.9" height="7.9" fill="#fd8d0f" stroke="#d87608" stroke-width="0.8"/>
<rect x="667.85" y="366.23" width="7.9" height="7.9" fill="#fd8d0f" stroke="#d87608" stroke-width="0.8"/>
<rect x="674.25" y="365.49" width="7.9" height="7.9" fill="#fd8d0f" stroke="#d87608" stroke-width="0.8"/>
<rect x="680.65" y="357.13" width="7.9" height="7.9" fill="#fd8d0f" stroke="#d87608" stroke-width="0.8"/>
<rect x="687.05" y="353.45" width="7.9" height="7.9" fill="#fd8d0f" stroke="#d87608" stroke-width="0.8"/>
<rect x="693.45" y="354.84" width="7.9" height="7.9" fill="#fd8d0f" stroke="#d87608" stroke-width="0.8"/>
<rect x="699.85" y="354.27" width="7.9" height="7.9" fill="#fd8d0f" stroke="#d87608" stroke-width="0.8"/>
<rect x="706.25" y="352.79" width="7.9" height="7.9" fill="#fd8d0f" stroke="#d87608" stroke-width="0.8"/>
<rect x="712.65" y="346.32" width="7.9" height="7.9" fill="#fd8d0f" stroke="#d87608" stroke-width="0.8"/>
<rect x="719.05" y="346.73" width="7.9" height="7.9" fill="#fd8d0f" stroke="#d87608" stroke-width="0.8"/>
<rect x="725.45" y="342.71" width="7.9" height="7.9" fill="#fd8d0f" stroke="#d87608" stroke-width="0.8"/>
<rect x="731.85" y="333.20" width="7.9" height="7.9" fill="#fd8d0f" stroke="#d87608" stroke-width="0.8"/>
<rect x="738.25" y="329.19" width="7.9" height="7.9" fill="#fd8d0f" stroke="#d87608" stroke-width="0.8"/>
<rect x="744.65" y="333.61" width="7.9" height="7.9" fill="#fd8d0f" stroke="#d87608" stroke-width="0.8"/>
<rect x="751.05" y="341.73" width="7.9" height="7.9" fill="#fd8d0f" stroke="#d87608" stroke-width="0.8"/>
<rect x="757.45" y="336.07" width="7.9" height="7.9" fill="#fd8d0f" stroke="#d87608" stroke-width="0.8"/>
<rect x="763.85" y="330.01" width="7.9" height="7.9" fill="#fd8d0f" stroke="#d87608" stroke-width="0.8"/>
<rect x="770.25" y="327.14" width="7.9" height="7.9" fill="#fd8d0f" stroke="#d87608" stroke-width="0.8"/>
<rect x="776.65" y="332.63" width="7.9" height="7.9" fill="#fd8d0f" stroke="#d87608" stroke-width="0.8"/>
<rect x="783.05" y="325.58" width="7.9" height="7.9" fill="#fd8d0f" stroke="#d87608" stroke-width="0.8"/>
<rect x="789.45" y="338.37" width="7.9" height="7.9" fill="#fd8d0f" stroke="#d87608" stroke-width="0.8"/>
<rect x="795.85" y="335.01" width="7.9" height="7.9" fill="#fd8d0f" stroke="#d87608" stroke-width="0.8"/>
<rect x="802.25" y="338.70" width="7.9" height="7.9" fill="#fd8d0f" stroke="#d87608" stroke-width="0.8"/>
<rect x="808.65" y="346.64" width="7.9" height="7.9" fill="#fd8d0f" stroke="#d87608" stroke-width="0.8"/>
<rect x="815.05" y="347.30" width="7.9" height="7.9" fill="#fd8d0f" stroke="#d87608" stroke-width="0.8"/>
<rect x="821.45" y="345.50" width="7.9" height="7.9" fill="#fd8d0f" stroke="#d87608" stroke-width="0.8"/>
<rect x="827.85" y="345.66" width="7.9" height="7.9" fill="#fd8d0f" stroke="#d87608" stroke-width="0.8"/>
<rect x="834.25" y="337.47" width="7.9" height="7.9" fill="#fd8d0f" stroke="#d87608" stroke-width="0.8"/>
<rect x="840.65" y="328.53" width="7.9" height="7.9" fill="#fd8d0f" stroke="#d87608" stroke-width="0.8"/>
<rect x="847.05" y="334.76" width="7.9" height="7.9" fill="#fd8d0f" stroke="#d87608" stroke-width="0.8"/>
<rect x="853.45" y="329.44" width="7.9" height="7.9" fill="#fd8d0f" stroke="#d87608" stroke-width="0.8"/>
<rect x="859.85" y="321.81" width="7.9" height="7.9" fill="#fd8d0f" stroke="#d87608" stroke-width="0.8"/>
<rect x="866.25" y="312.31" width="7.9" height="7.9" fill="#fd8d0f" stroke="#d87608" stroke-width="0.8"/>
<rect x="872.65" y="319.93" width="7.9" height="7.9" fill="#fd8d0f" stroke="#d87608" stroke-width="0.8"/>
<rect x="879.05" y="328.12" width="7.9" height="7.9" fill="#fd8d0f" stroke="#d87608" stroke-width="0.8"/>
<rect x="885.45" y="324.35" width="7.9" height="7.9" fill="#fd8d0f" stroke="#d87608" stroke-width="0.8"/>
<rect x="887.80" y="333.66" width="16" height="16" fill="#fd8d0f" stroke="#d87608" stroke-width="0.8"/>
<polyline points="127.80,439.43 134.20,438.87 140.60,438.31 147.00,437.76 153.40,437.20 159.80,436.64 166.20,436.27 172.60,435.89 179.00,435.51 185.40,435.13 191.80,434.76 198.20,434.53 204.60,434.30 211.00,434.07 217.40,433.84 223.80,433.61 230.20,433.30 236.60,433.00 243.00,432.69 249.40,432.38 255.80,431.81 262.20,431.81 268.60,431.81 275.00,431.81 281.40,431.81 287.80,431.81 294.20,431.81 300.60,431.81 307.00,431.81 313.40,431.15 319.80,430.74 326.20,430.74 332.60,430.74 339.00,430.74 345.40,430.74 351.80,430.74 358.20,429.51 364.60,427.63 371.00,427.87 377.40,428.69 383.80,427.46 390.20,425.58 396.60,426.23 403.00,424.84 409.40,425.82 415.80,427.05 422.20,426.64 428.60,425.82 435.00,425.42 441.40,424.39 447.80,423.37 454.20,422.30 460.60,421.24 467.00,420.62 473.40,420.01 479.80,419.51 486.20,419.31 492.60,419.10 499.00,418.37 505.40,417.63 511.80,416.81 518.20,412.55 524.60,410.66 531.00,407.39 537.40,409.52 543.80,409.52 550.20,410.01 556.60,408.29 563.00,405.91 569.40,406.98 575.80,407.80 582.20,407.39 588.60,407.39 595.00,406.48 601.40,401.98 607.80,394.85 614.20,396.65 620.60,398.45 627.00,398.45 633.40,398.04 639.80,402.88 646.20,401.08 652.60,405.58 659.00,405.91 665.40,406.48 671.80,403.78 678.20,402.88 684.60,401.65 691.00,401.65 697.40,401.24 703.80,400.83 710.20,400.42 716.60,400.01 723.00,399.60 729.40,399.19 735.80,398.78 742.20,398.37 748.60,397.96 755.00,397.55 761.40,397.14 767.80,396.73 774.20,396.32 780.60,395.91 787.00,395.50 793.40,395.09 799.80,394.68 806.20,394.27 812.60,393.86 819.00,393.45 825.40,393.04 831.80,392.63 838.20,392.23 844.60,391.82 851.00,391.41 857.40,391.00 863.80,390.59 870.20,390.18 876.60,389.77 883.00,389.36 889.40,388.95 895.80,388.54" fill="none" stroke="#96803a" stroke-width="1.1"/>
<rect x="123.85" y="435.48" width="7.9" height="7.9" fill="#fdd23c" stroke="#e3b62a" stroke-width="0.8"/>
<rect x="130.25" y="434.92" width="7.9" height="7.9" fill="#fdd23c" stroke="#e3b62a" stroke-width="0.8"/>
<rect x="136.65" y="434.36" width="7.9" height="7.9" fill="#fdd23c" stroke="#e3b62a" stroke-width="0.8"/>
<rect x="143.05" y="433.81" width="7.9" height="7.9" fill="#fdd23c" stroke="#e3b62a" stroke-width="0.8"/>
<rect x="149.45" y="433.25" width="7.9" height="7.9" fill="#fdd23c" stroke="#e3b62a" stroke-width="0.8"/>
<rect x="155.85" y="432.69" width="7.9" height="7.9" fill="#fdd23c" stroke="#e3b62a" stroke-width="0.8"/>
<rect x="162.25" y="432.32" width="7.9" height="7.9" fill="#fdd23c" stroke="#e3b62a" stroke-width="0.8"/>
<rect x="168.65" y="431.94" width="7.9" height="7.9" fill="#fdd23c" stroke="#e3b62a" stroke-width="0.8"/>
<rect x="175.05" y="431.56" width="7.9" height="7.9" fill="#fdd23c" stroke="#e3b62a" stroke-width="0.8"/>
<rect x="181.45" y="431.18" width="7.9" height="7.9" fill="#fdd23c" stroke="#e3b62a" stroke-width="0.8"/>
<rect x="187.85" y="430.81" width="7.9" height="7.9" fill="#fdd23c" stroke="#e3b62a" stroke-width="0.8"/>
<rect x="194.25" y="430.58" width="7.9" height="7.9" fill="#fdd23c" stroke="#e3b62a" stroke-width="0.8"/>
<rect x="200.65" y="430.35" width="7.9" height="7.9" fill="#fdd23c" stroke="#e3b62a" stroke-width="0.8"/>
<rect x="207.05" y="430.12" width="7.9" height="7.9" fill="#fdd23c" stroke="#e3b62a" stroke-width="0.8"/>
<rect x="213.45" y="429.89" width="7.9" height="7.9" fill="#fdd23c" stroke="#e3b62a" stroke-width="0.8"/>
<rect x="219.85" y="429.66" width="7.9" height="7.9" fill="#fdd23c" stroke="#e3b62a" stroke-width="0.8"/>
<rect x="226.25" y="429.35" width="7.9" height="7.9" fill="#fdd23c" stroke="#e3b62a" stroke-width="0.8"/>
<rect x="232.65" y="429.05" width="7.9" height="7.9" fill="#fdd23c" stroke="#e3b62a" stroke-width="0.8"/>
<rect x="239.05" y="428.74" width="7.9" height="7.9" fill="#fdd23c" stroke="#e3b62a" stroke-width="0.8"/>
<rect x="245.45" y="428.43" width="7.9" height="7.9" fill="#fdd23c" stroke="#e3b62a" stroke-width="0.8"/>
<rect x="251.85" y="427.86" width="7.9" height="7.9" fill="#fdd23c" stroke="#e3b62a" stroke-width="0.8"/>
<rect x="258.25" y="427.86" width="7.9" height="7.9" fill="#fdd23c" stroke="#e3b62a" stroke-width="0.8"/>
<rect x="264.65" y="427.86" width="7.9" height="7.9" fill="#fdd23c" stroke="#e3b62a" stroke-width="0.8"/>
<rect x="271.05" y="427.86" width="7.9" height="7.9" fill="#fdd23c" stroke="#e3b62a" stroke-width="0.8"/>
<rect x="277.45" y="427.86" width="7.9" height="7.9" fill="#fdd23c" stroke="#e3b62a" stroke-width="0.8"/>
<rect x="283.85" y="427.86" width="7.9" height="7.9" fill="#fdd23c" stroke="#e3b62a" stroke-width="0.8"/>
<rect x="290.25" y="427.86" width="7.9" height="7.9" fill="#fdd23c" stroke="#e3b62a" stroke-width="0.8"/>
<rect x="296.65" y="427.86" width="7.9" height="7.9" fill="#fdd23c" stroke="#e3b62a" stroke-width="0.8"/>
<rect x="303.05" y="427.86" width="7.9" height="7.9" fill="#fdd23c" stroke="#e3b62a" stroke-width="0.8"/>
<rect x="309.45" y="427.20" width="7.9" height="7.9" fill="#fdd23c" stroke="#e3b62a" stroke-width="0.8"/>
<rect x="315.85" y="426.79" width="7.9" height="7.9" fill="#fdd23c" stroke="#e3b62a" stroke-width="0.8"/>
<rect x="322.25" y="426.79" width="7.9" height="7.9" fill="#fdd23c" stroke="#e3b62a" stroke-width="0.8"/>
<rect x="328.65" y="426.79" width="7.9" height="7.9" fill="#fdd23c" stroke="#e3b62a" stroke-width="0.8"/>
<rect x="335.05" y="426.79" width="7.9" height="7.9" fill="#fdd23c" stroke="#e3b62a" stroke-width="0.8"/>
<rect x="341.45" y="426.79" width="7.9" height="7.9" fill="#fdd23c" stroke="#e3b62a" stroke-width="0.8"/>
<rect x="347.85" y="426.79" width="7.9" height="7.9" fill="#fdd23c" stroke="#e3b62a" stroke-width="0.8"/>
<rect x="354.25" y="425.56" width="7.9" height="7.9" fill="#fdd23c" stroke="#e3b62a" stroke-width="0.8"/>
<rect x="360.65" y="423.68" width="7.9" height="7.9" fill="#fdd23c" stroke="#e3b62a" stroke-width="0.8"/>
<rect x="367.05" y="423.92" width="7.9" height="7.9" fill="#fdd23c" stroke="#e3b62a" stroke-width="0.8"/>
<rect x="373.45" y="424.74" width="7.9" height="7.9" fill="#fdd23c" stroke="#e3b62a" stroke-width="0.8"/>
<rect x="379.85" y="423.51" width="7.9" height="7.9" fill="#fdd23c" stroke="#e3b62a" stroke-width="0.8"/>
<rect x="386.25" y="421.63" width="7.9" height="7.9" fill="#fdd23c" stroke="#e3b62a" stroke-width="0.8"/>
<rect x="392.65" y="422.28" width="7.9" height="7.9" fill="#fdd23c" stroke="#e3b62a" stroke-width="0.8"/>
<rect x="399.05" y="420.89" width="7.9" height="7.9" fill="#fdd23c" stroke="#e3b62a" stroke-width="0.8"/>
<rect x="405.45" y="421.87" width="7.9" height="7.9" fill="#fdd23c" stroke="#e3b62a" stroke-width="0.8"/>
<rect x="411.85" y="423.10" width="7.9" height="7.9" fill="#fdd23c" stroke="#e3b62a" stroke-width="0.8"/>
<rect x="418.25" y="422.69" width="7.9" height="7.9" fill="#fdd23c" stroke="#e3b62a" stroke-width="0.8"/>
<rect x="424.65" y="421.87" width="7.9" height="7.9" fill="#fdd23c" stroke="#e3b62a" stroke-width="0.8"/>
<rect x="431.05" y="421.47" width="7.9" height="7.9" fill="#fdd23c" stroke="#e3b62a" stroke-width="0.8"/>
<rect x="437.45" y="420.44" width="7.9" height="7.9" fill="#fdd23c" stroke="#e3b62a" stroke-width="0.8"/>
<rect x="443.85" y="419.42" width="7.9" height="7.9" fill="#fdd23c" stroke="#e3b62a" stroke-width="0.8"/>
<rect x="450.25" y="418.35" width="7.9" height="7.9" fill="#fdd23c" stroke="#e3b62a" stroke-width="0.8"/>
<rect x="456.65" y="417.29" width="7.9" height="7.9" fill="#fdd23c" stroke="#e3b62a" stroke-width="0.8"/>
<rect x="463.05" y="416.67" width="7.9" height="7.9" fill="#fdd23c" stroke="#e3b62a" stroke-width="0.8"/>
<rect x="469.45" y="416.06" width="7.9" height="7.9" fill="#fdd23c" stroke="#e3b62a" stroke-width="0.8"/>
<rect x="475.85" y="415.56" width="7.9" height="7.9" fill="#fdd23c" stroke="#e3b62a" stroke-width="0.8"/>
<rect x="482.25" y="415.36" width="7.9" height="7.9" fill="#fdd23c" stroke="#e3b62a" stroke-width="0.8"/>
<rect x="488.65" y="415.15" width="7.9" height="7.9" fill="#fdd23c" stroke="#e3b62a" stroke-width="0.8"/>
<rect x="495.05" y="414.42" width="7.9" height="7.9" fill="#fdd23c" stroke="#e3b62a" stroke-width="0.8"/>
<rect x="501.45" y="413.68" width="7.9" height="7.9" fill="#fdd23c" stroke="#e3b62a" stroke-width="0.8"/>
<rect x="507.85" y="412.86" width="7.9" height="7.9" fill="#fdd23c" stroke="#e3b62a" stroke-width="0.8"/>
<rect x="514.25" y="408.60" width="7.9" height="7.9" fill="#fdd23c" stroke="#e3b62a" stroke-width="0.8"/>
<rect x="520.65" y="406.71" width="7.9" height="7.9" fill="#fdd23c" stroke="#e3b62a" stroke-width="0.8"/>
<rect x="527.05" y="403.44" width="7.9" height="7.9" fill="#fdd23c" stroke="#e3b62a" stroke-width="0.8"/>
<rect x="533.45" y="405.57" width="7.9" height="7.9" fill="#fdd23c" stroke="#e3b62a" stroke-width="0.8"/>
<rect x="539.85" y="405.57" width="7.9" height="7.9" fill="#fdd23c" stroke="#e3b62a" stroke-width="0.8"/>
<rect x="546.25" y="406.06" width="7.9" height="7.9" fill="#fdd23c" stroke="#e3b62a" stroke-width="0.8"/>
<rect x="552.65" y="404.34" width="7.9" height="7.9" fill="#fdd23c" stroke="#e3b62a" stroke-width="0.8"/>
<rect x="559.05" y="401.96" width="7.9" height="7.9" fill="#fdd23c" stroke="#e3b62a" stroke-width="0.8"/>
<rect x="565.45" y="403.03" width="7.9" height="7.9" fill="#fdd23c" stroke="#e3b62a" stroke-width="0.8"/>
<rect x="571.85" y="403.85" width="7.9" height="7.9" fill="#fdd23c" stroke="#e3b62a" stroke-width="0.8"/>
<rect x="578.25" y="403.44" width="7.9" height="7.9" fill="#fdd23c" stroke="#e3b62a" stroke-width="0.8"/>
<rect x="584.65" y="403.44" width="7.9" height="7.9" fill="#fdd23c" stroke="#e3b62a" stroke-width="0.8"/>
<rect x="591.05" y="402.53" width="7.9" height="7.9" fill="#fdd23c" stroke="#e3b62a" stroke-width="0.8"/>
<rect x="597.45" y="398.03" width="7.9" height="7.9" fill="#fdd23c" stroke="#e3b62a" stroke-width="0.8"/>
<rect x="603.85" y="390.90" width="7.9" height="7.9" fill="#fdd23c" stroke="#e3b62a" stroke-width="0.8"/>
<rect x="610.25" y="392.70" width="7.9" height="7.9" fill="#fdd23c" stroke="#e3b62a" stroke-width="0.8"/>
<rect x="616.65" y="394.50" width="7.9" height="7.9" fill="#fdd23c" stroke="#e3b62a" stroke-width="0.8"/>
<rect x="623.05" y="394.50" width="7.9" height="7.9" fill="#fdd23c" stroke="#e3b62a" stroke-width="0.8"/>
<rect x="629.45" y="394.09" width="7.9" height="7.9" fill="#fdd23c" stroke="#e3b62a" stroke-width="0.8"/>
<rect x="635.85" y="398.93" width="7.9" height="7.9" fill="#fdd23c" stroke="#e3b62a" stroke-width="0.8"/>
<rect x="642.25" y="397.13" width="7.9" height="7.9" fill="#fdd23c" stroke="#e3b62a" stroke-width="0.8"/>
<rect x="648.65" y="401.63" width="7.9" height="7.9" fill="#fdd23c" stroke="#e3b62a" stroke-width="0.8"/>
<rect x="655.05" y="401.96" width="7.9" height="7.9" fill="#fdd23c" stroke="#e3b62a" stroke-width="0.8"/>
<rect x="661.45" y="402.53" width="7.9" height="7.9" fill="#fdd23c" stroke="#e3b62a" stroke-width="0.8"/>
<rect x="667.85" y="399.83" width="7.9" height="7.9" fill="#fdd23c" stroke="#e3b62a" stroke-width="0.8"/>
<rect x="674.25" y="398.93" width="7.9" height="7.9" fill="#fdd23c" stroke="#e3b62a" stroke-width="0.8"/>
<rect x="680.65" y="397.70" width="7.9" height="7.9" fill="#fdd23c" stroke="#e3b62a" stroke-width="0.8"/>
<rect x="687.05" y="397.70" width="7.9" height="7.9" fill="#fdd23c" stroke="#e3b62a" stroke-width="0.8"/>
<rect x="693.45" y="397.29" width="7.9" height="7.9" fill="#fdd23c" stroke="#e3b62a" stroke-width="0.8"/>
<rect x="699.85" y="396.88" width="7.9" height="7.9" fill="#fdd23c" stroke="#e3b62a" stroke-width="0.8"/>
<rect x="706.25" y="396.47" width="7.9" height="7.9" fill="#fdd23c" stroke="#e3b62a" stroke-width="0.8"/>
<rect x="712.65" y="396.06" width="7.9" height="7.9" fill="#fdd23c" stroke="#e3b62a" stroke-width="0.8"/>
<rect x="719.05" y="395.65" width="7.9" height="7.9" fill="#fdd23c" stroke="#e3b62a" stroke-width="0.8"/>
<rect x="725.45" y="395.24" width="7.9" height="7.9" fill="#fdd23c" stroke="#e3b62a" stroke-width="0.8"/>
<rect x="731.85" y="394.83" width="7.9" height="7.9" fill="#fdd23c" stroke="#e3b62a" stroke-width="0.8"/>
<rect x="738.25" y="394.42" width="7.9" height="7.9" fill="#fdd23c" stroke="#e3b62a" stroke-width="0.8"/>
<rect x="744.65" y="394.01" width="7.9" height="7.9" fill="#fdd23c" stroke="#e3b62a" stroke-width="0.8"/>
<rect x="751.05" y="393.60" width="7.9" height="7.9" fill="#fdd23c" stroke="#e3b62a" stroke-width="0.8"/>
<rect x="757.45" y="393.19" width="7.9" height="7.9" fill="#fdd23c" stroke="#e3b62a" stroke-width="0.8"/>
<rect x="763.85" y="392.78" width="7.9" height="7.9" fill="#fdd23c" stroke="#e3b62a" stroke-width="0.8"/>
<rect x="770.25" y="392.37" width="7.9" height="7.9" fill="#fdd23c" stroke="#e3b62a" stroke-width="0.8"/>
<rect x="776.65" y="391.96" width="7.9" height="7.9" fill="#fdd23c" stroke="#e3b62a" stroke-width="0.8"/>
<rect x="783.05" y="391.55" width="7.9" height="7.9" fill="#fdd23c" stroke="#e3b62a" stroke-width="0.8"/>
<rect x="789.45" y="391.14" width="7.9" height="7.9" fill="#fdd23c" stroke="#e3b62a" stroke-width="0.8"/>
<rect x="795.85" y="390.73" width="7.9" height="7.9" fill="#fdd23c" stroke="#e3b62a" stroke-width="0.8"/>
<rect x="802.25" y="390.32" width="7.9" height="7.9" fill="#fdd23c" stroke="#e3b62a" stroke-width="0.8"/>
<rect x="808.65" y="389.91" width="7.9" height="7.9" fill="#fdd23c" stroke="#e3b62a" stroke-width="0.8"/>
<rect x="815.05" y="389.50" width="7.9" height="7.9" fill="#fdd23c" stroke="#e3b62a" stroke-width="0.8"/>
<rect x="821.45" y="389.09" width="7.9" height="7.9" fill="#fdd23c" stroke="#e3b62a" stroke-width="0.8"/>
<rect x="827.85" y="388.69" width="7.9" height="7.9" fill="#fdd23c" stroke="#e3b62a" stroke-width="0.8"/>
<rect x="834.25" y="388.28" width="7.9" height="7.9" fill="#fdd23c" stroke="#e3b62a" stroke-width="0.8"/>
<rect x="840.65" y="387.87" width="7.9" height="7.9" fill="#fdd23c" stroke="#e3b62a" stroke-width="0.8"/>
<rect x="847.05" y="387.46" width="7.9" height="7.9" fill="#fdd23c" stroke="#e3b62a" stroke-width="0.8"/>
<rect x="853.45" y="387.05" width="7.9" height="7.9" fill="#fdd23c" stroke="#e3b62a" stroke-width="0.8"/>
<rect x="859.85" y="386.64" width="7.9" height="7.9" fill="#fdd23c" stroke="#e3b62a" stroke-width="0.8"/>
<rect x="866.25" y="386.23" width="7.9" height="7.9" fill="#fdd23c" stroke="#e3b62a" stroke-width="0.8"/>
<rect x="872.65" y="385.82" width="7.9" height="7.9" fill="#fdd23c" stroke="#e3b62a" stroke-width="0.8"/>
<rect x="879.05" y="385.41" width="7.9" height="7.9" fill="#fdd23c" stroke="#e3b62a" stroke-width="0.8"/>
<rect x="885.45" y="385.00" width="7.9" height="7.9" fill="#fdd23c" stroke="#e3b62a" stroke-width="0.8"/>
<rect x="891.85" y="384.59" width="7.9" height="7.9" fill="#fdd23c" stroke="#e3b62a" stroke-width="0.8"/>
<polyline points="127.80,439.43 134.20,439.59 140.60,439.76 147.00,439.81 153.40,439.87 159.80,439.92 166.20,439.87 172.60,439.81 179.00,439.76 185.40,438.53 191.80,438.12 198.20,438.12 204.60,438.12 211.00,436.64 217.40,436.64 223.80,436.64 230.20,436.64 236.60,436.64 243.00,436.64 249.40,436.64 255.80,436.64 262.20,436.64 268.60,436.64 275.00,437.71 281.40,438.53 287.80,438.53 294.20,438.53 300.60,438.53 307.00,438.53 313.40,438.53 319.80,438.94 326.20,438.94 332.60,438.94 339.00,438.94 345.40,438.94 351.80,440.25 358.20,440.25 364.60,440.25 371.00,441.40 377.40,441.40 383.80,442.09 390.20,442.79 396.60,443.03 403.00,443.03 409.40,443.03 415.80,443.03 422.20,443.03 428.60,443.03 435.00,443.03 441.40,443.03 447.80,443.03 454.20,443.03 460.60,443.03 467.00,443.03 473.40,443.03 479.80,443.03 486.20,443.03 492.60,443.44 499.00,442.50 505.40,441.56 511.80,440.86 518.20,440.17 524.60,439.92 531.00,439.67 537.40,439.35 543.80,439.06 550.20,438.77 556.60,438.49 563.00,438.20 569.40,437.87 575.80,437.54 582.20,437.22 588.60,436.89 595.00,436.56 601.40,436.23 607.80,435.54 614.20,434.84 620.60,434.02 627.00,433.20 633.40,431.81 639.80,431.40 646.20,430.99 652.60,430.33 659.00,429.59 665.40,431.15 671.80,431.15 678.20,430.91 684.60,430.74 691.00,429.10 697.40,428.99 703.80,428.87 710.20,428.76 716.60,428.64 723.00,428.53 729.40,428.41 735.80,428.30 742.20,428.18 748.60,428.07 755.00,427.95 761.40,427.84 767.80,427.72 774.20,427.60 780.60,427.49 787.00,427.37 793.40,427.26 799.80,427.14 806.20,427.03 812.60,426.91 819.00,426.80 825.40,426.68 831.80,426.57 838.20,426.45 844.60,426.34 851.00,426.22 857.40,426.11 863.80,425.99 870.20,425.88 876.60,425.76 883.00,425.65 889.40,425.53 895.80,425.42" fill="none" stroke="#682f5f" stroke-width="1.1"/>
<rect x="123.85" y="435.48" width="7.9" height="7.9" fill="#a81b93" stroke="#861474" stroke-width="0.8"/>
<rect x="130.25" y="435.64" width="7.9" height="7.9" fill="#a81b93" stroke="#861474" stroke-width="0.8"/>
<rect x="136.65" y="435.81" width="7.9" height="7.9" fill="#a81b93" stroke="#861474" stroke-width="0.8"/>
<rect x="143.05" y="435.86" width="7.9" height="7.9" fill="#a81b93" stroke="#861474" stroke-width="0.8"/>
<rect x="149.45" y="435.92" width="7.9" height="7.9" fill="#a81b93" stroke="#861474" stroke-width="0.8"/>
<rect x="155.85" y="435.97" width="7.9" height="7.9" fill="#a81b93" stroke="#861474" stroke-width="0.8"/>
<rect x="162.25" y="435.92" width="7.9" height="7.9" fill="#a81b93" stroke="#861474" stroke-width="0.8"/>
<rect x="168.65" y="435.86" width="7.9" height="7.9" fill="#a81b93" stroke="#861474" stroke-width="0.8"/>
<rect x="175.05" y="435.81" width="7.9" height="7.9" fill="#a81b93" stroke="#861474" stroke-width="0.8"/>
<rect x="181.45" y="434.58" width="7.9" height="7.9" fill="#a81b93" stroke="#861474" stroke-width="0.8"/>
<rect x="187.85" y="434.17" width="7.9" height="7.9" fill="#a81b93" stroke="#861474" stroke-width="0.8"/>
<rect x="194.25" y="434.17" width="7.9" height="7.9" fill="#a81b93" stroke="#861474" stroke-width="0.8"/>
<rect x="200.65" y="434.17" width="7.9" height="7.9" fill="#a81b93" stroke="#861474" stroke-width="0.8"/>
<rect x="207.05" y="432.69" width="7.9" height="7.9" fill="#a81b93" stroke="#861474" stroke-width="0.8"/>
<rect x="213.45" y="432.69" width="7.9" height="7.9" fill="#a81b93" stroke="#861474" stroke-width="0.8"/>
<rect x="219.85" y="432.69" width="7.9" height="7.9" fill="#a81b93" stroke="#861474" stroke-width="0.8"/>
<rect x="226.25" y="432.69" width="7.9" height="7.9" fill="#a81b93" stroke="#861474" stroke-width="0.8"/>
<rect x="232.65" y="432.69" width="7.9" height="7.9" fill="#a81b93" stroke="#861474" stroke-width="0.8"/>
<rect x="239.05" y="432.69" width="7.9" height="7.9" fill="#a81b93" stroke="#861474" stroke-width="0.8"/>
<rect x="245.45" y="432.69" width="7.9" height="7.9" fill="#a81b93" stroke="#861474" stroke-width="0.8"/>
<rect x="251.85" y="432.69" width="7.9" height="7.9" fill="#a81b93" stroke="#861474" stroke-width="0.8"/>
<rect x="258.25" y="432.69" width="7.9" height="7.9" fill="#a81b93" stroke="#861474" stroke-width="0.8"/>
<rect x="264.65" y="432.69" width="7.9" height="7.9" fill="#a81b93" stroke="#861474" stroke-width="0.8"/>
<rect x="271.05" y="433.76" width="7.9" height="7.9" fill="#a81b93" stroke="#861474" stroke-width="0.8"/>
<rect x="277.45" y="434.58" width="7.9" height="7.9" fill="#a81b93" stroke="#861474" stroke-width="0.8"/>
<rect x="283.85" y="434.58" width="7.9" height="7.9" fill="#a81b93" stroke="#861474" stroke-width="0.8"/>
<rect x="290.25" y="434.58" width="7.9" height="7.9" fill="#a81b93" stroke="#861474" stroke-width="0.8"/>
<rect x="296.65" y="434.58" width="7.9" height="7.9" fill="#a81b93" stroke="#861474" stroke-width="0.8"/>
<rect x="303.05" y="434.58" width="7.9" height="7.9" fill="#a81b93" stroke="#861474" stroke-width="0.8"/>
<rect x="309.45" y="434.58" width="7.9" height="7.9" fill="#a81b93" stroke="#861474" stroke-width="0.8"/>
<rect x="315.85" y="434.99" width="7.9" height="7.9" fill="#a81b93" stroke="#861474" stroke-width="0.8"/>
<rect x="322.25" y="434.99" width="7.9" height="7.9" fill="#a81b93" stroke="#861474" stroke-width="0.8"/>
<rect x="328.65" y="434.99" width="7.9" height="7.9" fill="#a81b93" stroke="#861474" stroke-width="0.8"/>
<rect x="335.05" y="434.99" width="7.9" height="7.9" fill="#a81b93" stroke="#861474" stroke-width="0.8"/>
<rect x="341.45" y="434.99" width="7.9" height="7.9" fill="#a81b93" stroke="#861474" stroke-width="0.8"/>
<rect x="347.85" y="436.30" width="7.9" height="7.9" fill="#a81b93" stroke="#861474" stroke-width="0.8"/>
<rect x="354.25" y="436.30" width="7.9" height="7.9" fill="#a81b93" stroke="#861474" stroke-width="0.8"/>
<rect x="360.65" y="436.30" width="7.9" height="7.9" fill="#a81b93" stroke="#861474" stroke-width="0.8"/>
<rect x="367.05" y="437.45" width="7.9" height="7.9" fill="#a81b93" stroke="#861474" stroke-width="0.8"/>
<rect x="373.45" y="437.45" width="7.9" height="7.9" fill="#a81b93" stroke="#861474" stroke-width="0.8"/>
<rect x="379.85" y="438.14" width="7.9" height="7.9" fill="#a81b93" stroke="#861474" stroke-width="0.8"/>
<rect x="386.25" y="438.84" width="7.9" height="7.9" fill="#a81b93" stroke="#861474" stroke-width="0.8"/>
<rect x="392.65" y="439.08" width="7.9" height="7.9" fill="#a81b93" stroke="#861474" stroke-width="0.8"/>
<rect x="399.05" y="439.08" width="7.9" height="7.9" fill="#a81b93" stroke="#861474" stroke-width="0.8"/>
<rect x="405.45" y="439.08" width="7.9" height="7.9" fill="#a81b93" stroke="#861474" stroke-width="0.8"/>
<rect x="411.85" y="439.08" width="7.9" height="7.9" fill="#a81b93" stroke="#861474" stroke-width="0.8"/>
<rect x="418.25" y="439.08" width="7.9" height="7.9" fill="#a81b93" stroke="#861474" stroke-width="0.8"/>
<rect x="424.65" y="439.08" width="7.9" height="7.9" fill="#a81b93" stroke="#861474" stroke-width="0.8"/>
<rect x="431.05" y="439.08" width="7.9" height="7.9" fill="#a81b93" stroke="#861474" stroke-width="0.8"/>
<rect x="437.45" y="439.08" width="7.9" height="7.9" fill="#a81b93" stroke="#861474" stroke-width="0.8"/>
<rect x="443.85" y="439.08" width="7.9" height="7.9" fill="#a81b93" stroke="#861474" stroke-width="0.8"/>
<rect x="450.25" y="439.08" width="7.9" height="7.9" fill="#a81b93" stroke="#861474" stroke-width="0.8"/>
<rect x="456.65" y="439.08" width="7.9" height="7.9" fill="#a81b93" stroke="#861474" stroke-width="0.8"/>
<rect x="463.05" y="439.08" width="7.9" height="7.9" fill="#a81b93" stroke="#861474" stroke-width="0.8"/>
<rect x="469.45" y="439.08" width="7.9" height="7.9" fill="#a81b93" stroke="#861474" stroke-width="0.8"/>
<rect x="475.85" y="439.08" width="7.9" height="7.9" fill="#a81b93" stroke="#861474" stroke-width="0.8"/>
<rect x="482.25" y="439.08" width="7.9" height="7.9" fill="#a81b93" stroke="#861474" stroke-width="0.8"/>
<rect x="488.65" y="439.49" width="7.9" height="7.9" fill="#a81b93" stroke="#861474" stroke-width="0.8"/>
<rect x="495.05" y="438.55" width="7.9" height="7.9" fill="#a81b93" stroke="#861474" stroke-width="0.8"/>
<rect x="501.45" y="437.61" width="7.9" height="7.9" fill="#a81b93" stroke="#861474" stroke-width="0.8"/>
<rect x="507.85" y="436.91" width="7.9" height="7.9" fill="#a81b93" stroke="#861474" stroke-width="0.8"/>
<rect x="514.25" y="436.22" width="7.9" height="7.9" fill="#a81b93" stroke="#861474" stroke-width="0.8"/>
<rect x="520.65" y="435.97" width="7.9" height="7.9" fill="#a81b93" stroke="#861474" stroke-width="0.8"/>
<rect x="527.05" y="435.72" width="7.9" height="7.9" fill="#a81b93" stroke="#861474" stroke-width="0.8"/>
<rect x="533.45" y="435.40" width="7.9" height="7.9" fill="#a81b93" stroke="#861474" stroke-width="0.8"/>
<rect x="539.85" y="435.11" width="7.9" height="7.9" fill="#a81b93" stroke="#861474" stroke-width="0.8"/>
<rect x="546.25" y="434.82" width="7.9" height="7.9" fill="#a81b93" stroke="#861474" stroke-width="0.8"/>
<rect x="552.65" y="434.54" width="7.9" height="7.9" fill="#a81b93" stroke="#861474" stroke-width="0.8"/>
<rect x="559.05" y="434.25" width="7.9" height="7.9" fill="#a81b93" stroke="#861474" stroke-width="0.8"/>
<rect x="565.45" y="433.92" width="7.9" height="7.9" fill="#a81b93" stroke="#861474" stroke-width="0.8"/>
<rect x="571.85" y="433.59" width="7.9" height="7.9" fill="#a81b93" stroke="#861474" stroke-width="0.8"/>
<rect x="578.25" y="433.27" width="7.9" height="7.9" fill="#a81b93" stroke="#861474" stroke-width="0.8"/>
<rect x="584.65" y="432.94" width="7.9" height="7.9" fill="#a81b93" stroke="#861474" stroke-width="0.8"/>
<rect x="591.05" y="432.61" width="7.9" height="7.9" fill="#a81b93" stroke="#861474" stroke-width="0.8"/>
<rect x="597.45" y="432.28" width="7.9" height="7.9" fill="#a81b93" stroke="#861474" stroke-width="0.8"/>
<rect x="603.85" y="431.59" width="7.9" height="7.9" fill="#a81b93" stroke="#861474" stroke-width="0.8"/>
<rect x="610.25" y="430.89" width="7.9" height="7.9" fill="#a81b93" stroke="#861474" stroke-width="0.8"/>
<rect x="616.65" y="430.07" width="7.9" height="7.9" fill="#a81b93" stroke="#861474" stroke-width="0.8"/>
<rect x="623.05" y="429.25" width="7.9" height="7.9" fill="#a81b93" stroke="#861474" stroke-width="0.8"/>
<rect x="629.45" y="427.86" width="7.9" height="7.9" fill="#a81b93" stroke="#861474" stroke-width="0.8"/>
<rect x="635.85" y="427.45" width="7.9" height="7.9" fill="#a81b93" stroke="#861474" stroke-width="0.8"/>
<rect x="642.25" y="427.04" width="7.9" height="7.9" fill="#a81b93" stroke="#861474" stroke-width="0.8"/>
<rect x="648.65" y="426.38" width="7.9" height="7.9" fill="#a81b93" stroke="#861474" stroke-width="0.8"/>
<rect x="655.05" y="425.64" width="7.9" height="7.9" fill="#a81b93" stroke="#861474" stroke-width="0.8"/>
<rect x="661.45" y="427.20" width="7.9" height="7.9" fill="#a81b93" stroke="#861474" stroke-width="0.8"/>
<rect x="667.85" y="427.20" width="7.9" height="7.9" fill="#a81b93" stroke="#861474" stroke-width="0.8"/>
<rect x="674.25" y="426.96" width="7.9" height="7.9" fill="#a81b93" stroke="#861474" stroke-width="0.8"/>
<rect x="680.65" y="426.79" width="7.9" height="7.9" fill="#a81b93" stroke="#861474" stroke-width="0.8"/>
<rect x="687.05" y="425.15" width="7.9" height="7.9" fill="#a81b93" stroke="#861474" stroke-width="0.8"/>
<rect x="693.45" y="425.04" width="7.9" height="7.9" fill="#a81b93" stroke="#861474" stroke-width="0.8"/>
<rect x="699.85" y="424.92" width="7.9" height="7.9" fill="#a81b93" stroke="#861474" stroke-width="0.8"/>
<rect x="706.25" y="424.81" width="7.9" height="7.9" fill="#a81b93" stroke="#861474" stroke-width="0.8"/>
<rect x="712.65" y="424.69" width="7.9" height="7.9" fill="#a81b93" stroke="#861474" stroke-width="0.8"/>
<rect x="719.05" y="424.58" width="7.9" height="7.9" fill="#a81b93" stroke="#861474" stroke-width="0.8"/>
<rect x="725.45" y="424.46" width="7.9" height="7.9" fill="#a81b93" stroke="#861474" stroke-width="0.8"/>
<rect x="731.85" y="424.35" width="7.9" height="7.9" fill="#a81b93" stroke="#861474" stroke-width="0.8"/>
<rect x="738.25" y="424.23" width="7.9" height="7.9" fill="#a81b93" stroke="#861474" stroke-width="0.8"/>
<rect x="744.65" y="424.12" width="7.9" height="7.9" fill="#a81b93" stroke="#861474" stroke-width="0.8"/>
<rect x="751.05" y="424.00" width="7.9" height="7.9" fill="#a81b93" stroke="#861474" stroke-width="0.8"/>
<rect x="757.45" y="423.89" width="7.9" height="7.9" fill="#a81b93" stroke="#861474" stroke-width="0.8"/>
<rect x="763.85" y="423.77" width="7.9" height="7.9" fill="#a81b93" stroke="#861474" stroke-width="0.8"/>
<rect x="770.25" y="423.65" width="7.9" height="7.9" fill="#a81b93" stroke="#861474" stroke-width="0.8"/>
<rect x="776.65" y="423.54" width="7.9" height="7.9" fill="#a81b93" stroke="#861474" stroke-width="0.8"/>
<rect x="783.05" y="423.42" width="7.9" height="7.9" fill="#a81b93" stroke="#861474" stroke-width="0.8"/>
<rect x="789.45" y="423.31" width="7.9" height="7.9" fill="#a81b93" stroke="#861474" stroke-width="0.8"/>
<rect x="795.85" y="423.19" width="7.9" height="7.9" fill="#a81b93" stroke="#861474" stroke-width="0.8"/>
<rect x="802.25" y="423.08" width="7.9" height="7.9" fill="#a81b93" stroke="#861474" stroke-width="0.8"/>
<rect x="808.65" y="422.96" width="7.9" height="7.9" fill="#a81b93" stroke="#861474" stroke-width="0.8"/>
<rect x="815.05" y="422.85" width="7.9" height="7.9" fill="#a81b93" stroke="#861474" stroke-width="0.8"/>
<rect x="821.45" y="422.73" width="7.9" height="7.9" fill="#a81b93" stroke="#861474" stroke-width="0.8"/>
<rect x="827.85" y="422.62" width="7.9" height="7.9" fill="#a81b93" stroke="#861474" stroke-width="0.8"/>
<rect x="834.25" y="422.50" width="7.9" height="7.9" fill="#a81b93" stroke="#861474" stroke-width="0.8"/>
<rect x="840.65" y="422.39" width="7.9" height="7.9" fill="#a81b93" stroke="#861474" stroke-width="0.8"/>
<rect x="847.05" y="422.27" width="7.9" height="7.9" fill="#a81b93" stroke="#861474" stroke-width="0.8"/>
<rect x="853.45" y="422.16" width="7.9" height="7.9" fill="#a81b93" stroke="#861474" stroke-width="0.8"/>
<rect x="859.85" y="422.04" width="7.9" height="7.9" fill="#a81b93" stroke="#861474" stroke-width="0.8"/>
<rect x="866.25" y="421.93" width="7.9" height="7.9" fill="#a81b93" stroke="#861474" stroke-width="0.8"/>
<rect x="872.65" y="421.81" width="7.9" height="7.9" fill="#a81b93" stroke="#861474" stroke-width="0.8"/>
<rect x="879.05" y="421.70" width="7.9" height="7.9" fill="#a81b93" stroke="#861474" stroke-width="0.8"/>
<rect x="885.45" y="421.58" width="7.9" height="7.9" fill="#a81b93" stroke="#861474" stroke-width="0.8"/>
<rect x="891.85" y="421.47" width="7.9" height="7.9" fill="#a81b93" stroke="#861474" stroke-width="0.8"/>
<polyline points="127.80,439.43 134.20,439.59 140.60,439.72 147.00,439.84 153.40,439.88 159.80,439.92 166.20,439.72 172.60,439.51 179.00,438.94 185.40,436.89 191.80,436.64 198.20,436.48 204.60,436.64 211.00,439.92 217.40,439.92 223.80,439.72 230.20,439.51 236.60,439.31 243.00,439.10 249.40,438.85 255.80,438.61 262.20,438.57 268.60,438.53 275.00,438.53 281.40,438.53 287.80,438.53 294.20,438.53 300.60,438.53 307.00,438.53 313.40,437.71 319.80,437.22 326.20,437.22 332.60,437.22 339.00,437.22 345.40,437.22 351.80,437.22 358.20,437.22 364.60,437.22 371.00,438.12 377.40,438.53 383.80,437.95 390.20,437.38 396.60,437.38 403.00,437.38 409.40,437.38 415.80,437.38 422.20,438.53 428.60,439.02 435.00,439.02 441.40,439.02 447.80,439.02 454.20,439.02 460.60,439.02 467.00,439.02 473.40,439.02 479.80,439.02 486.20,438.12 492.60,437.38 499.00,437.38 505.40,437.38 511.80,437.38 518.20,437.38 524.60,437.38 531.00,437.38 537.40,437.05 543.80,436.48 550.20,435.90 556.60,435.33 563.00,434.76 569.40,434.08 575.80,433.41 582.20,432.73 588.60,432.05 595.00,432.04 601.40,432.02 607.80,432.00 614.20,431.99 620.60,431.97 627.00,431.77 633.40,431.56 639.80,431.15 646.20,430.74 652.60,430.09 659.00,429.35 665.40,428.20 671.80,427.63 678.20,427.14 684.60,427.14 691.00,428.77 697.40,428.62 703.80,428.46 710.20,428.31 716.60,428.15 723.00,427.99 729.40,427.84 735.80,427.68 742.20,427.53 748.60,427.37 755.00,427.21 761.40,427.06 767.80,426.90 774.20,426.74 780.60,426.59 787.00,426.43 793.40,426.28 799.80,426.12 806.20,425.96 812.60,425.81 819.00,425.65 825.40,425.49 831.80,425.34 838.20,425.18 844.60,425.03 851.00,424.87 857.40,424.71 863.80,424.56 870.20,424.40 876.60,424.24 883.00,424.09 889.40,423.93 895.80,423.78" fill="none" stroke="#346e67" stroke-width="1.1"/>
<rect x="123.85" y="435.48" width="7.9" height="7.9" fill="#2ab3a2" stroke="#1e9284" stroke-width="0.8"/>
<rect x="130.25" y="435.64" width="7.9" height="7.9" fill="#2ab3a2" stroke="#1e9284" stroke-width="0.8"/>
<rect x="136.65" y="435.77" width="7.9" height="7.9" fill="#2ab3a2" stroke="#1e9284" stroke-width="0.8"/>
<rect x="143.05" y="435.89" width="7.9" height="7.9" fill="#2ab3a2" stroke="#1e9284" stroke-width="0.8"/>
<rect x="149.45" y="435.93" width="7.9" height="7.9" fill="#2ab3a2" stroke="#1e9284" stroke-width="0.8"/>
<rect x="155.85" y="435.97" width="7.9" height="7.9" fill="#2ab3a2" stroke="#1e9284" stroke-width="0.8"/>
<rect x="162.25" y="435.77" width="7.9" height="7.9" fill="#2ab3a2" stroke="#1e9284" stroke-width="0.8"/>
<rect x="168.65" y="435.56" width="7.9" height="7.9" fill="#2ab3a2" stroke="#1e9284" stroke-width="0.8"/>
<rect x="175.05" y="434.99" width="7.9" height="7.9" fill="#2ab3a2" stroke="#1e9284" stroke-width="0.8"/>
<rect x="181.45" y="432.94" width="7.9" height="7.9" fill="#2ab3a2" stroke="#1e9284" stroke-width="0.8"/>
<rect x="187.85" y="432.69" width="7.9" height="7.9" fill="#2ab3a2" stroke="#1e9284" stroke-width="0.8"/>
<rect x="194.25" y="432.53" width="7.9" height="7.9" fill="#2ab3a2" stroke="#1e9284" stroke-width="0.8"/>
<rect x="200.65" y="432.69" width="7.9" height="7.9" fill="#2ab3a2" stroke="#1e9284" stroke-width="0.8"/>
<rect x="207.05" y="435.97" width="7.9" height="7.9" fill="#2ab3a2" stroke="#1e9284" stroke-width="0.8"/>
<rect x="213.45" y="435.97" width="7.9" height="7.9" fill="#2ab3a2" stroke="#1e9284" stroke-width="0.8"/>
<rect x="219.85" y="435.77" width="7.9" height="7.9" fill="#2ab3a2" stroke="#1e9284" stroke-width="0.8"/>
<rect x="226.25" y="435.56" width="7.9" height="7.9" fill="#2ab3a2" stroke="#1e9284" stroke-width="0.8"/>
<rect x="232.65" y="435.36" width="7.9" height="7.9" fill="#2ab3a2" stroke="#1e9284" stroke-width="0.8"/>
<rect x="239.05" y="435.15" width="7.9" height="7.9" fill="#2ab3a2" stroke="#1e9284" stroke-width="0.8"/>
<rect x="245.45" y="434.90" width="7.9" height="7.9" fill="#2ab3a2" stroke="#1e9284" stroke-width="0.8"/>
<rect x="251.85" y="434.66" width="7.9" height="7.9" fill="#2ab3a2" stroke="#1e9284" stroke-width="0.8"/>
<rect x="258.25" y="434.62" width="7.9" height="7.9" fill="#2ab3a2" stroke="#1e9284" stroke-width="0.8"/>
<rect x="264.65" y="434.58" width="7.9" height="7.9" fill="#2ab3a2" stroke="#1e9284" stroke-width="0.8"/>
<rect x="271.05" y="434.58" width="7.9" height="7.9" fill="#2ab3a2" stroke="#1e9284" stroke-width="0.8"/>
<rect x="277.45" y="434.58" width="7.9" height="7.9" fill="#2ab3a2" stroke="#1e9284" stroke-width="0.8"/>
<rect x="283.85" y="434.58" width="7.9" height="7.9" fill="#2ab3a2" stroke="#1e9284" stroke-width="0.8"/>
<rect x="290.25" y="434.58" width="7.9" height="7.9" fill="#2ab3a2" stroke="#1e9284" stroke-width="0.8"/>
<rect x="296.65" y="434.58" width="7.9" height="7.9" fill="#2ab3a2" stroke="#1e9284" stroke-width="0.8"/>
<rect x="303.05" y="434.58" width="7.9" height="7.9" fill="#2ab3a2" stroke="#1e9284" stroke-width="0.8"/>
<rect x="309.45" y="433.76" width="7.9" height="7.9" fill="#2ab3a2" stroke="#1e9284" stroke-width="0.8"/>
<rect x="315.85" y="433.27" width="7.9" height="7.9" fill="#2ab3a2" stroke="#1e9284" stroke-width="0.8"/>
<rect x="322.25" y="433.27" width="7.9" height="7.9" fill="#2ab3a2" stroke="#1e9284" stroke-width="0.8"/>
<rect x="328.65" y="433.27" width="7.9" height="7.9" fill="#2ab3a2" stroke="#1e9284" stroke-width="0.8"/>
<rect x="335.05" y="433.27" width="7.9" height="7.9" fill="#2ab3a2" stroke="#1e9284" stroke-width="0.8"/>
<rect x="341.45" y="433.27" width="7.9" height="7.9" fill="#2ab3a2" stroke="#1e9284" stroke-width="0.8"/>
<rect x="347.85" y="433.27" width="7.9" height="7.9" fill="#2ab3a2" stroke="#1e9284" stroke-width="0.8"/>
<rect x="354.25" y="433.27" width="7.9" height="7.9" fill="#2ab3a2" stroke="#1e9284" stroke-width="0.8"/>
<rect x="360.65" y="433.27" width="7.9" height="7.9" fill="#2ab3a2" stroke="#1e9284" stroke-width="0.8"/>
<rect x="367.05" y="434.17" width="7.9" height="7.9" fill="#2ab3a2" stroke="#1e9284" stroke-width="0.8"/>
<rect x="373.45" y="434.58" width="7.9" height="7.9" fill="#2ab3a2" stroke="#1e9284" stroke-width="0.8"/>
<rect x="379.85" y="434.00" width="7.9" height="7.9" fill="#2ab3a2" stroke="#1e9284" stroke-width="0.8"/>
<rect x="386.25" y="433.43" width="7.9" height="7.9" fill="#2ab3a2" stroke="#1e9284" stroke-width="0.8"/>
<rect x="392.65" y="433.43" width="7.9" height="7.9" fill="#2ab3a2" stroke="#1e9284" stroke-width="0.8"/>
<rect x="399.05" y="433.43" width="7.9" height="7.9" fill="#2ab3a2" stroke="#1e9284" stroke-width="0.8"/>
<rect x="405.45" y="433.43" width="7.9" height="7.9" fill="#2ab3a2" stroke="#1e9284" stroke-width="0.8"/>
<rect x="411.85" y="433.43" width="7.9" height="7.9" fill="#2ab3a2" stroke="#1e9284" stroke-width="0.8"/>
<rect x="418.25" y="434.58" width="7.9" height="7.9" fill="#2ab3a2" stroke="#1e9284" stroke-width="0.8"/>
<rect x="424.65" y="435.07" width="7.9" height="7.9" fill="#2ab3a2" stroke="#1e9284" stroke-width="0.8"/>
<rect x="431.05" y="435.07" width="7.9" height="7.9" fill="#2ab3a2" stroke="#1e9284" stroke-width="0.8"/>
<rect x="437.45" y="435.07" width="7.9" height="7.9" fill="#2ab3a2" stroke="#1e9284" stroke-width="0.8"/>
<rect x="443.85" y="435.07" width="7.9" height="7.9" fill="#2ab3a2" stroke="#1e9284" stroke-width="0.8"/>
<rect x="450.25" y="435.07" width="7.9" height="7.9" fill="#2ab3a2" stroke="#1e9284" stroke-width="0.8"/>
<rect x="456.65" y="435.07" width="7.9" height="7.9" fill="#2ab3a2" stroke="#1e9284" stroke-width="0.8"/>
<rect x="463.05" y="435.07" width="7.9" height="7.9" fill="#2ab3a2" stroke="#1e9284" stroke-width="0.8"/>
<rect x="469.45" y="435.07" width="7.9" height="7.9" fill="#2ab3a2" stroke="#1e9284" stroke-width="0.8"/>
<rect x="475.85" y="435.07" width="7.9" height="7.9" fill="#2ab3a2" stroke="#1e9284" stroke-width="0.8"/>
<rect x="482.25" y="434.17" width="7.9" height="7.9" fill="#2ab3a2" stroke="#1e9284" stroke-width="0.8"/>
<rect x="488.65" y="433.43" width="7.9" height="7.9" fill="#2ab3a2" stroke="#1e9284" stroke-width="0.8"/>
<rect x="495.05" y="433.43" width="7.9" height="7.9" fill="#2ab3a2" stroke="#1e9284" stroke-width="0.8"/>
<rect x="501.45" y="433.43" width="7.9" height="7.9" fill="#2ab3a2" stroke="#1e9284" stroke-width="0.8"/>
<rect x="507.85" y="433.43" width="7.9" height="7.9" fill="#2ab3a2" stroke="#1e9284" stroke-width="0.8"/>
<rect x="514.25" y="433.43" width="7.9" height="7.9" fill="#2ab3a2" stroke="#1e9284" stroke-width="0.8"/>
<rect x="520.65" y="433.43" width="7.9" height="7.9" fill="#2ab3a2" stroke="#1e9284" stroke-width="0.8"/>
<rect x="527.05" y="433.43" width="7.9" height="7.9" fill="#2ab3a2" stroke="#1e9284" stroke-width="0.8"/>
<rect x="533.45" y="433.10" width="7.9" height="7.9" fill="#2ab3a2" stroke="#1e9284" stroke-width="0.8"/>
<rect x="539.85" y="432.53" width="7.9" height="7.9" fill="#2ab3a2" stroke="#1e9284" stroke-width="0.8"/>
<rect x="546.25" y="431.95" width="7.9" height="7.9" fill="#2ab3a2" stroke="#1e9284" stroke-width="0.8"/>
<rect x="552.65" y="431.38" width="7.9" height="7.9" fill="#2ab3a2" stroke="#1e9284" stroke-width="0.8"/>
<rect x="559.05" y="430.81" width="7.9" height="7.9" fill="#2ab3a2" stroke="#1e9284" stroke-width="0.8"/>
<rect x="565.45" y="430.13" width="7.9" height="7.9" fill="#2ab3a2" stroke="#1e9284" stroke-width="0.8"/>
<rect x="571.85" y="429.46" width="7.9" height="7.9" fill="#2ab3a2" stroke="#1e9284" stroke-width="0.8"/>
<rect x="578.25" y="428.78" width="7.9" height="7.9" fill="#2ab3a2" stroke="#1e9284" stroke-width="0.8"/>
<rect x="584.65" y="428.10" width="7.9" height="7.9" fill="#2ab3a2" stroke="#1e9284" stroke-width="0.8"/>
<rect x="591.05" y="428.09" width="7.9" height="7.9" fill="#2ab3a2" stroke="#1e9284" stroke-width="0.8"/>
<rect x="597.45" y="428.07" width="7.9" height="7.9" fill="#2ab3a2" stroke="#1e9284" stroke-width="0.8"/>
<rect x="603.85" y="428.05" width="7.9" height="7.9" fill="#2ab3a2" stroke="#1e9284" stroke-width="0.8"/>
<rect x="610.25" y="428.04" width="7.9" height="7.9" fill="#2ab3a2" stroke="#1e9284" stroke-width="0.8"/>
<rect x="616.65" y="428.02" width="7.9" height="7.9" fill="#2ab3a2" stroke="#1e9284" stroke-width="0.8"/>
<rect x="623.05" y="427.82" width="7.9" height="7.9" fill="#2ab3a2" stroke="#1e9284" stroke-width="0.8"/>
<rect x="629.45" y="427.61" width="7.9" height="7.9" fill="#2ab3a2" stroke="#1e9284" stroke-width="0.8"/>
<rect x="635.85" y="427.20" width="7.9" height="7.9" fill="#2ab3a2" stroke="#1e9284" stroke-width="0.8"/>
<rect x="642.25" y="426.79" width="7.9" height="7.9" fill="#2ab3a2" stroke="#1e9284" stroke-width="0.8"/>
<rect x="648.65" y="426.14" width="7.9" height="7.9" fill="#2ab3a2" stroke="#1e9284" stroke-width="0.8"/>
<rect x="655.05" y="425.40" width="7.9" height="7.9" fill="#2ab3a2" stroke="#1e9284" stroke-width="0.8"/>
<rect x="661.45" y="424.25" width="7.9" height="7.9" fill="#2ab3a2" stroke="#1e9284" stroke-width="0.8"/>
<rect x="667.85" y="423.68" width="7.9" height="7.9" fill="#2ab3a2" stroke="#1e9284" stroke-width="0.8"/>
<rect x="674.25" y="423.19" width="7.9" height="7.9" fill="#2ab3a2" stroke="#1e9284" stroke-width="0.8"/>
<rect x="680.65" y="423.19" width="7.9" height="7.9" fill="#2ab3a2" stroke="#1e9284" stroke-width="0.8"/>
<rect x="687.05" y="424.82" width="7.9" height="7.9" fill="#2ab3a2" stroke="#1e9284" stroke-width="0.8"/>
<rect x="693.45" y="424.67" width="7.9" height="7.9" fill="#2ab3a2" stroke="#1e9284" stroke-width="0.8"/>
<rect x="699.85" y="424.51" width="7.9" height="7.9" fill="#2ab3a2" stroke="#1e9284" stroke-width="0.8"/>
<rect x="706.25" y="424.36" width="7.9" height="7.9" fill="#2ab3a2" stroke="#1e9284" stroke-width="0.8"/>
<rect x="712.65" y="424.20" width="7.9" height="7.9" fill="#2ab3a2" stroke="#1e9284" stroke-width="0.8"/>
<rect x="719.05" y="424.04" width="7.9" height="7.9" fill="#2ab3a2" stroke="#1e9284" stroke-width="0.8"/>
<rect x="725.45" y="423.89" width="7.9" height="7.9" fill="#2ab3a2" stroke="#1e9284" stroke-width="0.8"/>
<rect x="731.85" y="423.73" width="7.9" height="7.9" fill="#2ab3a2" stroke="#1e9284" stroke-width="0.8"/>
<rect x="738.25" y="423.58" width="7.9" height="7.9" fill="#2ab3a2" stroke="#1e9284" stroke-width="0.8"/>
<rect x="744.65" y="423.42" width="7.9" height="7.9" fill="#2ab3a2" stroke="#1e9284" stroke-width="0.8"/>
<rect x="751.05" y="423.26" width="7.9" height="7.9" fill="#2ab3a2" stroke="#1e9284" stroke-width="0.8"/>
<rect x="757.45" y="423.11" width="7.9" height="7.9" fill="#2ab3a2" stroke="#1e9284" stroke-width="0.8"/>
<rect x="763.85" y="422.95" width="7.9" height="7.9" fill="#2ab3a2" stroke="#1e9284" stroke-width="0.8"/>
<rect x="770.25" y="422.79" width="7.9" height="7.9" fill="#2ab3a2" stroke="#1e9284" stroke-width="0.8"/>
<rect x="776.65" y="422.64" width="7.9" height="7.9" fill="#2ab3a2" stroke="#1e9284" stroke-width="0.8"/>
<rect x="783.05" y="422.48" width="7.9" height="7.9" fill="#2ab3a2" stroke="#1e9284" stroke-width="0.8"/>
<rect x="789.45" y="422.33" width="7.9" height="7.9" fill="#2ab3a2" stroke="#1e9284" stroke-width="0.8"/>
<rect x="795.85" y="422.17" width="7.9" height="7.9" fill="#2ab3a2" stroke="#1e9284" stroke-width="0.8"/>
<rect x="802.25" y="422.01" width="7.9" height="7.9" fill="#2ab3a2" stroke="#1e9284" stroke-width="0.8"/>
<rect x="808.65" y="421.86" width="7.9" height="7.9" fill="#2ab3a2" stroke="#1e9284" stroke-width="0.8"/>
<rect x="815.05" y="421.70" width="7.9" height="7.9" fill="#2ab3a2" stroke="#1e9284" stroke-width="0.8"/>
<rect x="821.45" y="421.54" width="7.9" height="7.9" fill="#2ab3a2" stroke="#1e9284" stroke-width="0.8"/>
<rect x="827.85" y="421.39" width="7.9" height="7.9" fill="#2ab3a2" stroke="#1e9284" stroke-width="0.8"/>
<rect x="834.25" y="421.23" width="7.9" height="7.9" fill="#2ab3a2" stroke="#1e9284" stroke-width="0.8"/>
<rect x="840.65" y="421.08" width="7.9" height="7.9" fill="#2ab3a2" stroke="#1e9284" stroke-width="0.8"/>
<rect x="847.05" y="420.92" width="7.9" height="7.9" fill="#2ab3a2" stroke="#1e9284" stroke-width="0.8"/>
<rect x="853.45" y="420.76" width="7.9" height="7.9" fill="#2ab3a2" stroke="#1e9284" stroke-width="0.8"/>
<rect x="859.85" y="420.61" width="7.9" height="7.9" fill="#2ab3a2" stroke="#1e9284" stroke-width="0.8"/>
<rect x="866.25" y="420.45" width="7.9" height="7.9" fill="#2ab3a2" stroke="#1e9284" stroke-width="0.8"/>
<rect x="872.65" y="420.29" width="7.9" height="7.9" fill="#2ab3a2" stroke="#1e9284" stroke-width="0.8"/>
<rect x="879.05" y="420.14" width="7.9" height="7.9" fill="#2ab3a2" stroke="#1e9284" stroke-width="0.8"/>
<rect x="885.45" y="419.98" width="7.9" height="7.9" fill="#2ab3a2" stroke="#1e9284" stroke-width="0.8"/>
<rect x="891.85" y="419.83" width="7.9" height="7.9" fill="#2ab3a2" stroke="#1e9284" stroke-width="0.8"/>
</svg>
<div class="legend">
<div class="li" style="top:9.70px"><span class="sw" style="background:#97b81a;box-shadow:inset 0 0 0 0.8px #7a9610"></span>95th Percentile</div>
<div class="li" style="top:31.75px"><span class="sw" style="background:#1b66b3;box-shadow:inset 0 0 0 0.8px #124a86"></span>90th Percentile</div>
<div class="li" style="top:53.80px"><span class="sw" style="background:#b31526;box-shadow:inset 0 0 0 0.8px #870d1a"></span>75th Percentile</div>
<div class="li" style="top:75.85px"><span class="sw" style="background:#fd8d0f;box-shadow:inset 0 0 0 0.8px #d87608"></span>50th Percentile</div>
<div class="li" style="top:97.90px"><span class="sw" style="background:#fdd23c;box-shadow:inset 0 0 0 0.8px #e3b62a"></span>25th Percentile</div>
<div class="li" style="top:119.95px"><span class="sw" style="background:#a81b93;box-shadow:inset 0 0 0 0.8px #861474"></span>10th Percentile</div>
<div class="li" style="top:142.00px"><span class="sw" style="background:#2ab3a2;box-shadow:inset 0 0 0 0.8px #1e9284"></span>5th Percentile</div>
</div>
<svg width="1080" height="32" style="position:absolute;left:0;top:536px"><rect x="35.2" y="2.6" width="980" height="26.2" fill="#3f79ae"/></svg><div class="bar" style="left:35px;top:538.6px;width:980px;height:26.2px;background:none"><span style="position:absolute;left:7.5px;top:-0.3px">Summary Statistics</span></div>
<div class="tbl">
<div class="thr">
<div class="th" style="left:196px">Mean of All 1000</div>
<div class="th" style="left:294px">5th Percentile</div>
<div class="th" style="left:392px">10th Percentile</div>
<div class="th" style="left:490px">25th Percentile</div>
<div class="th" style="left:588px">50th Percentile</div>
<div class="th" style="left:686px">75th Percentile</div>
<div class="th" style="left:784px">90th Percentile</div>
<div class="th" style="left:882px">95th Percentile</div>
</div>
<div class="tr" style="top:18.00px"><div class="td l">Start Value</div>
<div class="td" style="left:196px">$12,927</div>
<div class="td" style="left:294px">$12,927</div>
<div class="td" style="left:392px">$12,927</div>
<div class="td" style="left:490px">$12,927</div>
<div class="td" style="left:588px">$12,927</div>
<div class="td" style="left:686px">$12,927</div>
<div class="td" style="left:784px">$12,927</div>
<div class="td" style="left:882px">$12,927</div>
</div>
<div class="tr alt" style="top:35.15px"><div class="td l">End Value (April, 2032)</div>
<div class="td" style="left:196px">$175,786</div>
<div class="td" style="left:294px">$43,800</div>
<div class="td" style="left:392px">$55,346</div>
<div class="td" style="left:490px">$88,100</div>
<div class="td" style="left:588px">$132,178</div>
<div class="td" style="left:686px">$211,586</div>
<div class="td" style="left:784px">$325,855</div>
<div class="td" style="left:882px">$426,611</div>
</div>
<div class="tr" style="top:52.30px"><div class="td l">Gain</div>
<div class="td" style="left:196px">$162,859</div>
<div class="td" style="left:294px">$30,873</div>
<div class="td" style="left:392px">$42,419</div>
<div class="td" style="left:490px">$75,174</div>
<div class="td" style="left:588px">$119,251</div>
<div class="td" style="left:686px">$198,659</div>
<div class="td" style="left:784px">$312,928</div>
<div class="td" style="left:882px">$413,684</div>
</div>
<div class="tr alt" style="top:69.45px"><div class="td l">Withdrawals</div>
<div class="td" style="left:196px">$0</div>
<div class="td" style="left:294px">$0</div>
<div class="td" style="left:392px">$0</div>
<div class="td" style="left:490px">$0</div>
<div class="td" style="left:588px">$0</div>
<div class="td" style="left:686px">$0</div>
<div class="td" style="left:784px">$0</div>
<div class="td" style="left:882px">$0</div>
</div>
<div class="tr" style="top:86.60px"><div class="td l">Max Drawdown (%)</div>
<div class="td" style="left:196px">28.5%</div>
<div class="td" style="left:294px">25.7%</div>
<div class="td" style="left:392px">60.1%</div>
<div class="td" style="left:490px">21.4%</div>
<div class="td" style="left:588px">22.7%</div>
<div class="td" style="left:686px">17.7%</div>
<div class="td" style="left:784px">18.3%</div>
<div class="td" style="left:882px">23.7%</div>
</div>
<div class="tr alt" style="top:103.75px"><div class="td l">Max Drawdown w/out Withdrawals (%)</div>
<div class="td" style="left:196px">28.5%</div>
<div class="td" style="left:294px">25.7%</div>
<div class="td" style="left:392px">60.1%</div>
<div class="td" style="left:490px">21.4%</div>
<div class="td" style="left:588px">22.7%</div>
<div class="td" style="left:686px">17.7%</div>
<div class="td" style="left:784px">18.3%</div>
<div class="td" style="left:882px">23.7%</div>
</div>
<div class="tr" style="top:120.90px"><div class="td l">Volatility</div>
<div class="td" style="left:196px">0.21</div>
<div class="td" style="left:294px">0.19</div>
<div class="td" style="left:392px">0.23</div>
<div class="td" style="left:490px">0.17</div>
<div class="td" style="left:588px">0.19</div>
<div class="td" style="left:686px">0.20</div>
<div class="td" style="left:784px">0.22</div>
<div class="td" style="left:882px">0.21</div>
</div>
<div class="tr alt" style="top:138.05px"><div class="td l">S&amp;P 500 Volatility</div>
<div class="td" style="left:196px">0.16</div>
<div class="td" style="left:294px">0.16</div>
<div class="td" style="left:392px">0.16</div>
<div class="td" style="left:490px">0.16</div>
<div class="td" style="left:588px">0.16</div>
<div class="td" style="left:686px">0.16</div>
<div class="td" style="left:784px">0.16</div>
<div class="td" style="left:882px">0.16</div>
</div>
<div class="tr" style="top:155.20px"><div class="td l">Portfolio(s) Annual Return (%)</div>
<div class="td" style="left:196px">31.7%</div>
<div class="td" style="left:294px">13.0%</div>
<div class="td" style="left:392px">15.7%</div>
<div class="td" style="left:490px">21.1%</div>
<div class="td" style="left:588px">26.2%</div>
<div class="td" style="left:686px">32.2%</div>
<div class="td" style="left:784px">38.0%</div>
<div class="td" style="left:882px">41.8%</div>
</div>
<div class="tr alt" style="top:172.35px"><div class="td l">S&amp;P 500 Ann. Return (%)</div>
<div class="td" style="left:196px">13.5%</div>
<div class="td" style="left:294px">6.1%</div>
<div class="td" style="left:392px">5.3%</div>
<div class="td" style="left:490px">15.8%</div>
<div class="td" style="left:588px">15.1%</div>
<div class="td" style="left:686px">18.8%</div>
<div class="td" style="left:784px">15.9%</div>
<div class="td" style="left:882px">23.0%</div>
</div>
<div class="tr" style="top:189.50px"><div class="td l">Ann. Return vs. S&amp;P 500</div>
<div class="td" style="left:196px">18.2%</div>
<div class="td" style="left:294px">6.9%</div>
<div class="td" style="left:392px">10.3%</div>
<div class="td" style="left:490px">5.3%</div>
<div class="td" style="left:588px">11.0%</div>
<div class="td" style="left:686px">13.4%</div>
<div class="td" style="left:784px">22.1%</div>
<div class="td" style="left:882px">18.9%</div>
</div>
<div class="tr alt" style="top:206.65px"><div class="td l">Portfolio(s) Risk Adj. Return vs. S&amp;P 500</div>
<div class="td" style="left:196px">-10.0%</div>
<div class="td" style="left:294px">5.5%</div>
<div class="td" style="left:392px">7.1%</div>
<div class="td" style="left:490px">5.0%</div>
<div class="td" style="left:588px">9.4%</div>
<div class="td" style="left:686px">11.6%</div>
<div class="td" style="left:784px">17.5%</div>
<div class="td" style="left:882px">13.5%</div>
</div>
</div>
<svg width="400" height="240" style="position:absolute;left:0;top:600px"><rect x="32.05" y="12.85" width="307.9" height="211.1" fill="none" stroke="#fe0000" stroke-width="3.85"/></svg>
<div class="fn" style="top:830.3px">Over the historical sample period the S&amp;P 500's best monthly return was 12.4% and the worst monthly return was -12.3%.<br>Simulated portfolios were set to sample positive months 72% on average.<br>Bullish months averaged 3.3% and bearish months averaged -4.3% making the expected monthly market return 1.1% before inflation.</div>
<svg width="400" height="400" style="position:absolute;left:690px;top:358px;overflow:visible"><rect x="1.7" y="3.6" width="420" height="381.6" rx="2.5" fill="#000" fill-opacity="0.10"/><rect x="1.7" y="2.4" width="420" height="381.5" rx="2" fill="#777777"/></svg>
<div class="tt">
<div class="t b" style="left:16.0px;top:12.2px;font-size:10.6px">Apr 2032</div>
<div class="t" style="left:15.5px;top:44px">Ending Value</div>
<div class="t b" style="left:15.5px;top:56.9px">$132,178</div>
<div class="hs" style="left:15.0px;width:84.5px"></div>
<div class="t b" style="left:113.29999999999995px;top:11.5px">Starting Value</div>
<div class="t" style="left:113.29999999999995px;top:22.9px">$148,520</div>
<div class="t b" style="left:113.29999999999995px;top:44px">1M Return</div>
<div class="t" style="left:113.29999999999995px;top:56.9px">-11.0%</div>
<div class="vd" style="left:106.3px"></div>
<div class="hs" style="left:112.79999999999995px;width:84.5px"></div>
<div class="t b" style="left:210px;top:11.5px">Sample Month</div>
<div class="t" style="left:210px;top:22.9px">May 2019</div>
<div class="t b" style="left:210px;top:44px">S&amp;P 500 Return</div>
<div class="t" style="left:210px;top:56.9px">-6.8%</div>
<div class="vd" style="left:203.0px"></div>
<div class="hs" style="left:209.5px;width:84.5px"></div>
<div class="t b" style="left:306.5px;top:11.5px">Rebalancing</div>
<div class="t" style="left:306.5px;top:22.9px">11 month(s) ago</div>
<div class="t b" style="left:306.5px;top:44px">Withdrawals</div>
<div class="t" style="left:306.5px;top:56.9px">Never</div>
<div class="vd" style="left:299.5px"></div>
<div class="hs" style="left:306.0px;width:90px"></div>
<div class="hl" style="top:77.6px;left:12px;height:1.6px;background:#e2e2e2"></div>
<div class="t b" style="left:21px;top:87.3px">Top Holding</div>
<div class="t b r" style="right:184.6px;top:87.3px">Starting Value</div>
<div class="t b r" style="right:116.3px;top:87.3px">Return</div>
<div class="t b r" style="right:0.8px;top:87.3px">Ending Value</div>
<div class="hl" style="top:100.40px;left:16px"></div>
<div class="hl" style="top:118.43px;left:16px"></div>
<div class="hl" style="top:136.46px;left:16px"></div>
<div class="hl" style="top:154.49px;left:16px"></div>
<div class="hl" style="top:172.52px;left:16px"></div>
<div class="hl" style="top:190.55px;left:16px"></div>
<div class="hl" style="top:208.58px;left:16px"></div>
<div class="hl" style="top:226.61px;left:16px"></div>
<div class="hl" style="top:244.64px;left:16px"></div>
<div class="hl" style="top:262.67px;left:16px"></div>
<div class="hl" style="top:280.70px;left:16px"></div>
<div class="hl" style="top:298.73px;left:16px"></div>
<div class="hl" style="top:316.76px;left:16px"></div>
<div class="hl" style="top:334.79px;left:16px"></div>
<div class="hl" style="top:352.82px;left:16px"></div>
<div class="hl" style="top:370.85px;left:16px"></div>
<div class="t" style="left:22.5px;top:103.50px">GOOG</div>
<div class="t r" style="right:189.3px;top:103.50px">$28,100</div>
<div class="t r" style="right:122px;top:103.50px">-7.4%</div>
<div class="t r" style="right:6px;top:103.50px">$26,019</div>
<div class="t" style="left:22.5px;top:121.53px">GOOGL</div>
<div class="t r" style="right:189.3px;top:121.53px">$24,530</div>
<div class="t r" style="right:122px;top:121.53px">-8.0%</div>
<div class="t r" style="right:6px;top:121.53px">$22,573</div>
<div class="t" style="left:22.5px;top:139.56px">CROX</div>
<div class="t r" style="right:189.3px;top:139.56px">$23,425</div>
<div class="t r" style="right:122px;top:139.56px">-30.9%</div>
<div class="t r" style="right:6px;top:139.56px">$16,188</div>
<div class="t" style="left:22.5px;top:157.59px">NVR</div>
<div class="t r" style="right:189.3px;top:157.59px">$20,624</div>
<div class="t r" style="right:122px;top:157.59px">1.3%</div>
<div class="t r" style="right:6px;top:157.59px">$20,890</div>
<div class="t" style="left:22.5px;top:175.62px">KLAC</div>
<div class="t r" style="right:189.3px;top:175.62px">$9,283</div>
<div class="t r" style="right:122px;top:175.62px">-18.9%</div>
<div class="t r" style="right:6px;top:175.62px">$7,533</div>
<div class="t" style="left:22.5px;top:193.65px">CRAI</div>
<div class="t r" style="right:189.3px;top:193.65px">$7,631</div>
<div class="t r" style="right:122px;top:193.65px">-28.0%</div>
<div class="t r" style="right:6px;top:193.65px">$5,493</div>
<div class="t" style="left:22.5px;top:211.68px">AMD</div>
<div class="t r" style="right:189.3px;top:211.68px">$6,004</div>
<div class="t r" style="right:122px;top:211.68px">-1.1%</div>
<div class="t r" style="right:6px;top:211.68px">$5,940</div>
<div class="t" style="left:22.5px;top:229.71px">PTSI</div>
<div class="t r" style="right:189.3px;top:229.71px">$4,700</div>
<div class="t r" style="right:122px;top:229.71px">11.7%</div>
<div class="t r" style="right:6px;top:229.71px">$5,249</div>
<div class="t" style="left:22.5px;top:247.74px">DHR</div>
<div class="t r" style="right:189.3px;top:247.74px">$4,457</div>
<div class="t r" style="right:122px;top:247.74px">-0.6%</div>
<div class="t r" style="right:6px;top:247.74px">$4,431</div>
<div class="t" style="left:22.5px;top:265.77px">WST</div>
<div class="t r" style="right:189.3px;top:265.77px">$4,002</div>
<div class="t r" style="right:122px;top:265.77px">-7.7%</div>
<div class="t r" style="right:6px;top:265.77px">$3,694</div>
<div class="t" style="left:22.5px;top:283.80px">GPI</div>
<div class="t r" style="right:189.3px;top:283.80px">$2,664</div>
<div class="t r" style="right:122px;top:283.80px">-7.8%</div>
<div class="t r" style="right:6px;top:283.80px">$2,457</div>
<div class="t" style="left:22.5px;top:301.83px">IT</div>
<div class="t r" style="right:189.3px;top:301.83px">$2,035</div>
<div class="t r" style="right:122px;top:301.83px">-5.1%</div>
<div class="t r" style="right:6px;top:301.83px">$1,932</div>
<div class="t" style="left:22.5px;top:319.86px">MOS</div>
<div class="t r" style="right:189.3px;top:319.86px">$1,742</div>
<div class="t r" style="right:122px;top:319.86px">-18.0%</div>
<div class="t r" style="right:6px;top:319.86px">$1,428</div>
<div class="t" style="left:22.5px;top:337.89px">IQV</div>
<div class="t r" style="right:189.3px;top:337.89px">$1,693</div>
<div class="t r" style="right:122px;top:337.89px">-2.5%</div>
<div class="t r" style="right:6px;top:337.89px">$1,651</div>
<div class="t" style="left:22.5px;top:355.92px">WSM</div>
<div class="t r" style="right:189.3px;top:355.92px">$1,282</div>
<div class="t r" style="right:122px;top:355.92px">2.1%</div>
<div class="t r" style="right:6px;top:355.92px">$1,308</div>
</div>
</body></html>
